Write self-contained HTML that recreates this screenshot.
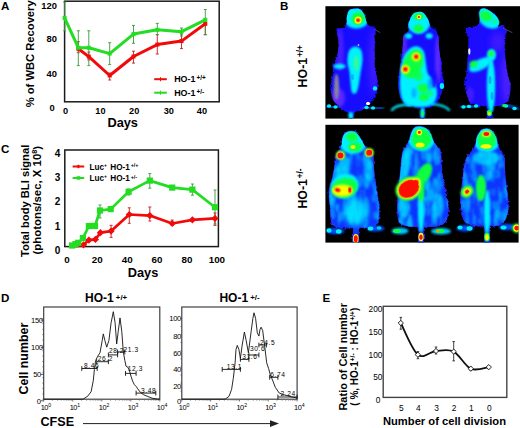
<!DOCTYPE html>
<html><head><meta charset="utf-8"><style>
html,body{margin:0;padding:0;background:#fff;}
svg{display:block;font-family:"Liberation Sans", sans-serif;}
</style></head><body>
<svg width="520" height="428" viewBox="0 0 520 428">
<defs>
<filter id="b07" x="-20%" y="-20%" width="140%" height="140%"><feGaussianBlur stdDeviation="0.8"/></filter>
<clipPath id="mc1"><path d="M349,10.2 C350.4,8.7 353.2,9.0 355,8.8 C356.8,8.6 358.5,8.3 360,9.2 C361.5,10.1 362.8,11.7 364,14 C365.2,16.3 366.1,21.2 367.1,23.2 C368.1,25.2 368.7,25.2 370,26 C371.3,26.8 374.1,26.8 375,28 C375.9,29.2 375.5,31.0 375.5,33 C375.5,35.0 374.9,36.5 374.8,40 C374.7,43.5 374.8,49.5 374.8,54 C374.8,58.5 374.3,62.5 374.8,67 C375.3,71.5 377.2,76.8 377.6,81 C378.0,85.2 377.7,88.9 376.9,92.2 C376.1,95.5 374.3,98.4 372.7,100.7 C371.1,103.0 368.6,104.5 367,106 C365.4,107.5 364.5,108.8 362.9,109.8 C361.3,110.8 358.8,111.2 357.2,111.9 C355.6,112.6 354.2,112.9 353.5,114 C352.8,115.1 353.8,117.8 353,118.6 C352.2,119.4 349.7,119.5 349,118.6 C348.3,117.7 349.8,114.6 348.8,113.3 C347.8,112.0 344.9,111.7 343.2,110.5 C341.4,109.3 340.1,107.9 338.3,106 C336.6,104.1 334.0,102.3 332.7,99.3 C331.4,96.3 330.6,92.2 330.6,88 C330.6,83.8 332.2,77.8 332.7,74 C333.2,70.2 332.6,68.3 333.4,65 C334.2,61.7 336.8,58.2 337.6,54 C338.4,49.8 338.5,43.7 338.3,40 C338.1,36.3 336.3,33.5 336.2,31.6 C336.1,29.7 336.3,29.5 337.6,28.8 C338.9,28.1 342.5,28.6 344,27.5 C345.5,26.4 346.2,23.6 346.7,22 C347.1,20.4 346.3,19.6 346.7,17.6 C347.1,15.6 347.6,11.7 349,10.2Z"/></clipPath><clipPath id="mc2"><path d="M418,12 C419.7,11.8 421.4,11.3 423,12.5 C424.6,13.7 426.6,16.8 427.9,19 C429.2,21.2 429.5,24.4 430.7,26 C431.9,27.6 433.6,27.2 434.9,28.8 C436.2,30.4 437.7,32.8 438.4,35.8 C439.1,38.8 438.3,40.6 439,47 C439.7,53.4 441.8,67.6 442.6,74 C443.4,80.4 444.6,81.0 444,85.2 C443.4,89.4 440.5,96.0 439,99.3 C437.5,102.6 436.7,103.5 434.9,104.9 C433.1,106.3 429.8,106.9 428,107.5 C426.2,108.1 424.9,106.7 424.3,108.5 C423.7,110.3 424.9,116.9 424.3,118.6 C423.7,120.3 421.4,120.3 420.8,118.6 C420.2,116.9 421.6,110.3 420.8,108.5 C420.0,106.7 418.6,108.1 416,107.5 C413.4,106.9 407.9,106.3 405.4,104.9 C402.9,103.5 402.4,102.1 401.2,99.3 C400.0,96.5 398.8,92.2 398.4,88 C398.0,83.8 398.4,80.8 399.1,74 C399.8,67.2 401.9,53.3 402.6,47 C403.3,40.7 402.4,38.7 403.3,36 C404.2,33.3 407.4,32.8 408.2,31 C409.0,29.2 408.0,26.8 408.2,25 C408.4,23.2 408.8,22.2 409.6,20.4 C410.4,18.6 411.6,15.4 413,14 C414.4,12.6 416.3,12.2 418,12Z"/></clipPath><clipPath id="mc3"><path d="M479.6,10.6 C480.5,8.6 482.6,7.8 485.2,8.5 C487.8,9.2 492.6,12.6 495,14.8 C497.4,17.0 498.8,19.7 499.3,21.8 C499.8,23.9 497.4,26.9 497.9,27.4 C498.3,27.9 500.6,24.6 502,25 C503.4,25.4 505.5,27.5 506,30 C506.5,32.5 505.1,36.0 504.9,40 C504.7,44.0 504.5,48.3 505,54 C505.5,59.7 506.8,68.8 507.7,74 C508.6,79.2 510.3,81.2 510.5,85.2 C510.7,89.2 510.0,94.9 509.1,97.9 C508.2,101.0 506.9,102.1 504.9,103.5 C502.9,104.9 499.0,105.7 497,106.3 C495.0,106.9 493.8,105.0 493,107 C492.2,109.0 493.5,116.7 492.5,118.6 C491.5,120.5 488.0,120.5 487,118.6 C486.0,116.7 487.7,109.0 486.5,107 C485.3,105.0 482.6,106.9 480,106.3 C477.4,105.7 473.2,104.9 471.2,103.5 C469.1,102.1 468.8,101.0 467.7,97.9 C466.6,94.9 465.1,89.2 464.9,85.2 C464.7,81.2 465.8,79.2 466.3,74 C466.8,68.8 467.4,59.7 467.7,54 C468.0,48.3 468.8,44.1 468.4,40 C468.0,35.9 465.7,31.6 465.6,29.5 C465.5,27.4 465.8,28.0 467.7,27.4 C469.6,26.8 475.0,27.2 477,26 C479.0,24.8 479.2,23.0 479.6,20.4 C480.0,17.8 478.7,12.6 479.6,10.6Z"/></clipPath><clipPath id="mc4"><path d="M346,132.4 C348.0,131.3 352.1,130.8 354.4,131.7 C356.7,132.5 358.4,135.3 360,137.5 C361.6,139.7 363.0,143.0 364.3,145 C365.6,147.0 366.6,148.0 368,149.5 C369.4,151.0 371.8,151.3 372.7,154.1 C373.6,156.8 372.9,161.0 373.4,166 C373.9,171.0 374.6,177.5 375.5,184 C376.4,190.5 378.5,198.9 379,205 C379.5,211.1 379.1,216.9 378.3,220.5 C377.5,224.1 376.1,225.3 374,226.5 C371.9,227.7 368.6,227.1 366,227.5 C363.4,227.9 359.8,226.4 358.6,229 C357.4,231.6 359.5,240.6 358.6,242.9 C357.7,245.2 353.9,245.2 353,242.9 C352.1,240.6 354.3,231.5 353,229 C351.7,226.5 348.2,228.5 345,228 C341.8,227.5 336.3,227.2 334,226 C331.7,224.8 332.0,224.0 331.3,220.5 C330.6,217.0 330.2,210.1 329.9,205 C329.5,199.9 328.8,194.2 329.2,190 C329.6,185.8 331.1,184.0 332,180 C332.9,176.0 334.2,169.7 334.8,166 C335.4,162.3 334.9,160.0 335.5,157.6 C336.1,155.2 337.5,153.6 338.5,151.5 C339.5,149.4 340.8,147.2 341.5,145 C342.2,142.8 341.8,140.1 342.5,138 C343.2,135.9 344.0,133.5 346,132.4Z"/></clipPath><clipPath id="mc5"><path d="M415.8,126.8 C417.9,126.0 421.9,126.6 424.2,127.5 C426.5,128.4 428.4,130.2 429.9,132.4 C431.4,134.6 432.2,138.5 433.4,140.8 C434.6,143.2 435.8,144.6 437,146.5 C438.2,148.4 439.8,148.8 440.5,152 C441.2,155.2 441.1,161.3 441.5,166 C441.9,170.7 441.9,173.5 443,180 C444.1,186.5 447.5,198.5 448.1,205 C448.7,211.5 447.9,215.7 446.7,219 C445.5,222.3 443.8,223.8 441,225 C438.2,226.2 432.9,226.0 430,226.5 C427.1,227.0 424.6,225.3 423.5,228 C422.4,230.7 424.3,240.4 423.5,242.9 C422.7,245.4 419.4,245.4 418.6,242.9 C417.8,240.4 420.0,230.7 418.6,228 C417.2,225.3 412.9,227.2 410,226.5 C407.1,225.8 402.9,225.2 401,224 C399.1,222.8 398.9,222.2 398.3,219 C397.7,215.8 397.4,211.5 397.6,205 C397.8,198.5 399.1,186.5 399.7,180 C400.3,173.5 400.6,170.5 401.1,166 C401.6,161.5 401.8,156.2 402.5,153 C403.2,149.8 404.4,148.5 405.5,146.5 C406.6,144.5 408.0,143.2 409,140.8 C410.0,138.5 410.5,134.7 411.6,132.4 C412.7,130.1 413.7,127.6 415.8,126.8Z"/></clipPath><clipPath id="mc6"><path d="M482.5,129.6 C484.7,128.4 488.0,128.4 490.2,129.6 C492.4,130.8 494.6,134.3 495.9,137 C497.2,139.7 497.1,143.5 498,146 C498.9,148.5 499.9,150.0 501,152 C502.1,154.0 503.7,155.3 504.3,158 C504.9,160.7 504.3,164.3 504.5,168 C504.7,171.7 504.9,175.0 505.5,180 C506.1,185.0 507.4,192.7 507.8,198 C508.2,203.3 508.6,207.8 507.8,212 C507.0,216.2 505.0,221.0 502.9,223.3 C500.8,225.6 497.2,225.4 495,226 C492.8,226.6 490.4,224.2 489.5,227 C488.6,229.8 490.3,240.2 489.5,242.9 C488.7,245.6 485.4,245.6 484.6,242.9 C483.8,240.2 485.7,229.8 484.6,227 C483.5,224.2 481.0,226.6 478,226 C475.0,225.4 469.1,225.6 466.4,223.3 C463.6,221.0 462.4,216.2 461.5,212 C460.6,207.8 460.6,203.3 460.8,198 C461.0,192.7 462.3,185.3 462.9,180 C463.5,174.7 463.8,169.8 464.5,166 C465.2,162.2 465.8,159.5 467,157 C468.2,154.5 470.6,153.0 472,151 C473.4,149.0 474.6,147.4 475.5,145 C476.4,142.6 476.0,139.2 477.2,136.6 C478.4,134.0 480.3,130.8 482.5,129.6Z"/></clipPath>
<filter id="b05" x="-50%" y="-50%" width="200%" height="200%"><feGaussianBlur stdDeviation="0.6"/></filter>
<filter id="b1" x="-50%" y="-50%" width="200%" height="200%"><feGaussianBlur stdDeviation="1.1"/></filter>
<filter id="b15" x="-50%" y="-50%" width="200%" height="200%"><feGaussianBlur stdDeviation="1.8"/></filter>
<filter id="b2" x="-50%" y="-50%" width="200%" height="200%"><feGaussianBlur stdDeviation="3"/></filter>
<filter id="rough" x="-10%" y="-10%" width="120%" height="120%"><feTurbulence type="fractalNoise" baseFrequency="0.35" numOctaves="2" seed="3" result="n"/><feDisplacementMap in="SourceGraphic" in2="n" scale="3.5" xChannelSelector="R" yChannelSelector="G" result="d"/><feGaussianBlur in="d" stdDeviation="0.5"/></filter>
<clipPath id="clipTop"><rect x="325.4" y="6.2" width="194.6" height="112.4"/></clipPath>
<clipPath id="clipBot"><rect x="325.4" y="124.8" width="193.2" height="117.8"/></clipPath>
</defs>
<rect width="520" height="428" fill="#fff"/>
<text x="0.9" y="10.0" font-size="11.6" font-weight="bold" text-anchor="start" >A</text>
<text transform="translate(33.8,53.8) rotate(-90)" font-size="11.2" font-weight="bold" text-anchor="middle">% of WBC Recovery</text>
<text x="57.0" y="8.8" font-size="9.4" font-weight="bold" text-anchor="end" >120</text>
<text x="57.0" y="42.2" font-size="9.4" font-weight="bold" text-anchor="end" >80</text>
<text x="57.0" y="76.7" font-size="9.4" font-weight="bold" text-anchor="end" >40</text>
<text x="54.6" y="110.6" font-size="9.4" font-weight="bold" text-anchor="end" >0</text>
<text x="65.6" y="113.6" font-size="9.2" font-weight="bold" text-anchor="middle" >0</text>
<text x="100.4" y="113.6" font-size="9.2" font-weight="bold" text-anchor="middle" >10</text>
<text x="134.2" y="113.6" font-size="9.2" font-weight="bold" text-anchor="middle" >20</text>
<text x="168.8" y="113.6" font-size="9.2" font-weight="bold" text-anchor="middle" >30</text>
<text x="201.9" y="113.6" font-size="9.2" font-weight="bold" text-anchor="middle" >40</text>
<text x="122.7" y="126.8" font-size="12.8" font-weight="bold" text-anchor="middle" >Days</text>
<rect x="64.6" y="1.2" width="154.6" height="100.6" fill="none" stroke="#1a1a1a" stroke-width="1.5"/>
<path d="M78.3,41.7V52.7M76.8,41.7h3M76.8,52.7h3" stroke="#c02020" stroke-width="0.9" fill="none"/>
<path d="M88.8,52V60M87.3,52h3M87.3,60h3" stroke="#c02020" stroke-width="0.9" fill="none"/>
<path d="M109.7,73V80M108.2,73h3M108.2,80h3" stroke="#c02020" stroke-width="0.9" fill="none"/>
<path d="M133.5,51.2V63.1M132.0,51.2h3M132.0,63.1h3" stroke="#c02020" stroke-width="0.9" fill="none"/>
<path d="M157.3,34.7V54M155.8,34.7h3M155.8,54h3" stroke="#c02020" stroke-width="0.9" fill="none"/>
<path d="M181.5,34.1V48.6M180.0,34.1h3M180.0,48.6h3" stroke="#c02020" stroke-width="0.9" fill="none"/>
<path d="M205.3,19.8V34.7M203.8,19.8h3M203.8,34.7h3" stroke="#c02020" stroke-width="0.9" fill="none"/>
<path d="M64.6,2V30.8M63.099999999999994,2h3M63.099999999999994,30.8h3" stroke="#3a9a3a" stroke-width="0.9" fill="none"/>
<path d="M78.3,30.8V65.6M76.8,30.8h3M76.8,65.6h3" stroke="#3a9a3a" stroke-width="0.9" fill="none"/>
<path d="M88.8,30.8V65.6M87.3,30.8h3M87.3,65.6h3" stroke="#3a9a3a" stroke-width="0.9" fill="none"/>
<path d="M109.7,42.7V64.6M108.2,42.7h3M108.2,64.6h3" stroke="#3a9a3a" stroke-width="0.9" fill="none"/>
<path d="M133.5,25.4V43.3M132.0,25.4h3M132.0,43.3h3" stroke="#3a9a3a" stroke-width="0.9" fill="none"/>
<path d="M157.3,23.4V34.7M155.8,23.4h3M155.8,34.7h3" stroke="#3a9a3a" stroke-width="0.9" fill="none"/>
<path d="M181.5,28V36M180.0,28h3M180.0,36h3" stroke="#3a9a3a" stroke-width="0.9" fill="none"/>
<path d="M205.3,9.5V34.7M203.8,9.5h3M203.8,34.7h3" stroke="#3a9a3a" stroke-width="0.9" fill="none"/>
<polyline points="78.3,48.7 88.8,56.6 109.7,75.5 133.5,56.5 157.3,44.6 181.5,41.1 205.3,23.8" fill="none" stroke="#f20a0a" stroke-width="3" stroke-linejoin="round"/>
<rect x="76.3" y="46.7" width="4" height="4" fill="#f20a0a"/>
<rect x="86.8" y="54.6" width="4" height="4" fill="#f20a0a"/>
<rect x="107.7" y="73.5" width="4" height="4" fill="#f20a0a"/>
<rect x="131.5" y="54.5" width="4" height="4" fill="#f20a0a"/>
<rect x="155.3" y="42.6" width="4" height="4" fill="#f20a0a"/>
<rect x="179.5" y="39.1" width="4" height="4" fill="#f20a0a"/>
<rect x="203.3" y="21.8" width="4" height="4" fill="#f20a0a"/>
<polyline points="64.6,17.9 78.3,47.7 88.8,47.7 109.7,53.6 133.5,34.1 157.3,29.8 181.5,31.7 205.3,19.8" fill="none" stroke="#22dd22" stroke-width="3" stroke-linejoin="round"/>
<rect x="62.6" y="15.9" width="4" height="4" fill="#22dd22"/>
<rect x="76.3" y="45.7" width="4" height="4" fill="#22dd22"/>
<rect x="86.8" y="45.7" width="4" height="4" fill="#22dd22"/>
<rect x="107.7" y="51.6" width="4" height="4" fill="#22dd22"/>
<rect x="131.5" y="32.1" width="4" height="4" fill="#22dd22"/>
<rect x="155.3" y="27.8" width="4" height="4" fill="#22dd22"/>
<rect x="179.5" y="29.7" width="4" height="4" fill="#22dd22"/>
<rect x="203.3" y="17.8" width="4" height="4" fill="#22dd22"/>
<path d="M154.2,79.2H166.8" stroke="#f20a0a" stroke-width="2"/>
<path d="M160.5,77.2V81.2M160.5,77.2h0M160.5,81.2h0" stroke="#f20a0a" stroke-width="1" fill="none"/>
<path d="M154.2,92.7H166.8" stroke="#22dd22" stroke-width="2"/>
<path d="M160.5,90.7V94.7M160.5,90.7h0M160.5,94.7h0" stroke="#22dd22" stroke-width="1" fill="none"/>
<text x="174.2" y="82.4" font-size="8.9" font-weight="bold" text-anchor="start" >HO-1<tspan font-size="6.4" dy="-2.2" dx="1.0">+/+</tspan></text>
<text x="174.2" y="95.9" font-size="8.9" font-weight="bold" text-anchor="start" >HO-1<tspan font-size="6.4" dy="-2.2" dx="1.0">+/-</tspan></text>
<text x="0.9" y="153.2" font-size="11.6" font-weight="bold" text-anchor="start" >C</text>
<text transform="translate(28.7,200.9) rotate(-90)" font-size="11.2" font-weight="bold" text-anchor="middle">Total body BLI signal</text>
<text transform="translate(40.8,200.2) rotate(-90)" font-size="11.4" font-weight="bold" text-anchor="middle">(photons/sec, X 10<tspan font-size="7.2" dy="-4">8</tspan><tspan dy="4">)</tspan></text>
<text x="60.2" y="156.5" font-size="10.0" font-weight="bold" text-anchor="end" >4</text>
<text x="60.2" y="181.1" font-size="10.0" font-weight="bold" text-anchor="end" >3</text>
<text x="60.2" y="205.1" font-size="10.0" font-weight="bold" text-anchor="end" >2</text>
<text x="60.2" y="229.5" font-size="10.0" font-weight="bold" text-anchor="end" >1</text>
<text x="60.2" y="253.9" font-size="10.0" font-weight="bold" text-anchor="end" >0</text>
<text x="66.9" y="263.4" font-size="9.8" font-weight="bold" text-anchor="middle" >0</text>
<text x="97.2" y="263.4" font-size="9.8" font-weight="bold" text-anchor="middle" >20</text>
<text x="127.2" y="263.4" font-size="9.8" font-weight="bold" text-anchor="middle" >40</text>
<text x="156.89999999999998" y="263.4" font-size="9.8" font-weight="bold" text-anchor="middle" >60</text>
<text x="186.89999999999998" y="263.4" font-size="9.8" font-weight="bold" text-anchor="middle" >80</text>
<text x="216.89999999999998" y="263.4" font-size="9.8" font-weight="bold" text-anchor="middle" >100</text>
<text x="143" y="276.8" font-size="12.8" font-weight="bold" text-anchor="middle" >Days</text>
<rect x="64.8" y="150.0" width="153.6" height="96.6" fill="none" stroke="#1a1a1a" stroke-width="1.5"/>
<path d="M100,205V217.9M98.5,205h3M98.5,217.9h3" stroke="#3a9a3a" stroke-width="0.9" fill="none"/>
<path d="M149.8,173.6V188.2M148.3,173.6h3M148.3,188.2h3" stroke="#3a9a3a" stroke-width="0.9" fill="none"/>
<path d="M192.4,184V195.2M190.9,184h3M190.9,195.2h3" stroke="#3a9a3a" stroke-width="0.9" fill="none"/>
<path d="M215,190V224M213.5,190h3M213.5,224h3" stroke="#3a9a3a" stroke-width="0.9" fill="none"/>
<path d="M128.6,189V195M127.1,189h3M127.1,195h3" stroke="#3a9a3a" stroke-width="0.9" fill="none"/>
<path d="M111.1,225.3V237.4M109.6,225.3h3M109.6,237.4h3" stroke="#c02020" stroke-width="0.9" fill="none"/>
<path d="M129.3,207.8V223.3M127.80000000000001,207.8h3M127.80000000000001,223.3h3" stroke="#c02020" stroke-width="0.9" fill="none"/>
<path d="M149.8,207V221M148.3,207h3M148.3,221h3" stroke="#c02020" stroke-width="0.9" fill="none"/>
<path d="M172.2,220V225.4M170.7,220h3M170.7,225.4h3" stroke="#c02020" stroke-width="0.9" fill="none"/>
<path d="M215,213V225.4M213.5,213h3M213.5,225.4h3" stroke="#c02020" stroke-width="0.9" fill="none"/>
<polyline points="72.1,246.0 78.2,246.0 83.5,244.8 88.9,240.1 95.4,239.4 100.4,232.7 111.1,231.1 129.3,214.5 149.8,215.6 172.2,223.5 192.4,219.8 215.0,218.4" fill="none" stroke="#f20a0a" stroke-width="2.7" stroke-linejoin="round"/>
<path d="M83.5,241.20000000000002L87.1,244.8L83.5,248.4L79.9,244.8Z" fill="#f20a0a"/>
<path d="M88.9,236.5L92.5,240.1L88.9,243.7L85.30000000000001,240.1Z" fill="#f20a0a"/>
<path d="M95.4,235.8L99.0,239.4L95.4,243.0L91.80000000000001,239.4Z" fill="#f20a0a"/>
<path d="M100.4,229.1L104.0,232.7L100.4,236.29999999999998L96.80000000000001,232.7Z" fill="#f20a0a"/>
<path d="M111.1,227.5L114.69999999999999,231.1L111.1,234.7L107.5,231.1Z" fill="#f20a0a"/>
<path d="M129.3,210.9L132.9,214.5L129.3,218.1L125.70000000000002,214.5Z" fill="#f20a0a"/>
<path d="M149.8,212.0L153.4,215.6L149.8,219.2L146.20000000000002,215.6Z" fill="#f20a0a"/>
<path d="M172.2,219.9L175.79999999999998,223.5L172.2,227.1L168.6,223.5Z" fill="#f20a0a"/>
<path d="M192.4,216.20000000000002L196.0,219.8L192.4,223.4L188.8,219.8Z" fill="#f20a0a"/>
<path d="M215,214.8L218.6,218.4L215,222.0L211.4,218.4Z" fill="#f20a0a"/>
<polyline points="72.1,245.5 75.5,244.1 78.2,242.8 82.9,238.1 88.9,226.0 95.0,226.0 100.0,210.5 110.7,209.1 128.6,191.8 149.8,180.6 172.2,187.6 192.4,189.6 215.0,207.2" fill="none" stroke="#22dd22" stroke-width="2.7" stroke-linejoin="round"/>
<rect x="69.0" y="242.4" width="6.2" height="6.2" fill="#22dd22"/>
<rect x="72.4" y="241.0" width="6.2" height="6.2" fill="#22dd22"/>
<rect x="75.1" y="239.7" width="6.2" height="6.2" fill="#22dd22"/>
<rect x="79.8" y="235.0" width="6.2" height="6.2" fill="#22dd22"/>
<rect x="85.8" y="222.9" width="6.2" height="6.2" fill="#22dd22"/>
<rect x="91.9" y="222.9" width="6.2" height="6.2" fill="#22dd22"/>
<rect x="96.9" y="207.4" width="6.2" height="6.2" fill="#22dd22"/>
<rect x="107.6" y="206.0" width="6.2" height="6.2" fill="#22dd22"/>
<rect x="125.5" y="188.7" width="6.2" height="6.2" fill="#22dd22"/>
<rect x="146.7" y="177.5" width="6.2" height="6.2" fill="#22dd22"/>
<rect x="169.1" y="184.5" width="6.2" height="6.2" fill="#22dd22"/>
<rect x="189.3" y="186.5" width="6.2" height="6.2" fill="#22dd22"/>
<rect x="211.9" y="204.1" width="6.2" height="6.2" fill="#22dd22"/>
<path d="M72.6,166.5H84.2" stroke="#f20a0a" stroke-width="2"/>
<path d="M78.4,164.5L80.4,166.5L78.4,168.5L76.4,166.5Z" fill="#f20a0a"/>
<path d="M72.6,178H84.2" stroke="#22dd22" stroke-width="2"/>
<rect x="76.7" y="176.2" width="3.5" height="3.5" fill="#22dd22"/>
<text x="89.5" y="169.8" font-size="8.2" font-weight="bold" text-anchor="start" >Luc<tspan font-size="5" dy="-3.2">+</tspan><tspan dy="3.2" dx="1"> HO-1</tspan><tspan font-size="5.4" dy="-2.7" dx="0.8">+/+</tspan></text>
<text x="89.5" y="181.3" font-size="8.2" font-weight="bold" text-anchor="start" >Luc<tspan font-size="5" dy="-3.2">+</tspan><tspan dy="3.2" dx="1"> HO-1</tspan><tspan font-size="5.4" dy="-2.7" dx="0.8">+/-</tspan></text>
<text x="1.0" y="302.1" font-size="11.6" font-weight="bold" text-anchor="start" >D</text>
<text transform="translate(28.2,358.6) rotate(-90)" font-size="12.4" font-weight="bold" text-anchor="middle">Cell number</text>
<text x="40.5" y="426.3" font-size="12.6" font-weight="bold" text-anchor="start" >CFSE</text>
<path d="M83,423.6H276" stroke="#222" stroke-width="1"/>
<path d="M270,420.2L279,423.6L270,427Z" fill="#222"/>
<rect x="43.7" y="307.0" width="116.10000000000001" height="92.19999999999999" fill="none" stroke="#3a3a3a" stroke-width="1.15"/>
<rect x="181.8" y="307.0" width="115.30000000000001" height="92.19999999999999" fill="none" stroke="#3a3a3a" stroke-width="1.15"/>
<path d="M43.7,399.2h-1.3" stroke="#444" stroke-width="0.7"/>
<path d="M43.7,393.8h-1.3" stroke="#444" stroke-width="0.7"/>
<path d="M43.7,388.4h-1.3" stroke="#444" stroke-width="0.7"/>
<path d="M43.7,383.0h-1.3" stroke="#444" stroke-width="0.7"/>
<path d="M43.7,377.7h-1.3" stroke="#444" stroke-width="0.7"/>
<path d="M43.7,372.3h-1.3" stroke="#444" stroke-width="0.7"/>
<path d="M43.7,366.9h-1.3" stroke="#444" stroke-width="0.7"/>
<path d="M43.7,361.5h-1.3" stroke="#444" stroke-width="0.7"/>
<path d="M43.7,356.1h-1.3" stroke="#444" stroke-width="0.7"/>
<path d="M43.7,350.7h-1.3" stroke="#444" stroke-width="0.7"/>
<path d="M43.7,345.3h-1.3" stroke="#444" stroke-width="0.7"/>
<path d="M43.7,339.9h-1.3" stroke="#444" stroke-width="0.7"/>
<path d="M43.7,334.6h-1.3" stroke="#444" stroke-width="0.7"/>
<path d="M43.7,329.2h-1.3" stroke="#444" stroke-width="0.7"/>
<path d="M43.7,323.8h-1.3" stroke="#444" stroke-width="0.7"/>
<path d="M43.7,318.4h-1.3" stroke="#444" stroke-width="0.7"/>
<path d="M181.8,399.2h-1.3" stroke="#444" stroke-width="0.7"/>
<path d="M181.8,391.1h-1.3" stroke="#444" stroke-width="0.7"/>
<path d="M181.8,383.0h-1.3" stroke="#444" stroke-width="0.7"/>
<path d="M181.8,375.0h-1.3" stroke="#444" stroke-width="0.7"/>
<path d="M181.8,366.9h-1.3" stroke="#444" stroke-width="0.7"/>
<path d="M181.8,358.8h-1.3" stroke="#444" stroke-width="0.7"/>
<path d="M181.8,350.7h-1.3" stroke="#444" stroke-width="0.7"/>
<path d="M181.8,342.6h-1.3" stroke="#444" stroke-width="0.7"/>
<path d="M181.8,334.6h-1.3" stroke="#444" stroke-width="0.7"/>
<path d="M181.8,326.5h-1.3" stroke="#444" stroke-width="0.7"/>
<path d="M181.8,318.4h-1.3" stroke="#444" stroke-width="0.7"/>
<text x="85.0" y="302.0" font-size="12.0" font-weight="bold" text-anchor="start" >HO-1<tspan font-size="7.8" dy="-2.5" dx="2.2">+/+</tspan></text>
<text x="42.6" y="322.8" font-size="7.6" font-weight="normal" text-anchor="end" letter-spacing="-0.4">150</text>
<path d="M40.8,320.0H43.7" stroke="#333" stroke-width="0.8"/>
<text x="42.6" y="350.2" font-size="7.6" font-weight="normal" text-anchor="end" letter-spacing="-0.4">100</text>
<path d="M40.8,347.4H43.7" stroke="#333" stroke-width="0.8"/>
<text x="40.8" y="377.2" font-size="7.6" font-weight="normal" text-anchor="end" letter-spacing="-0.4">50</text>
<path d="M40.8,374.4H43.7" stroke="#333" stroke-width="0.8"/>
<text x="40.6" y="403.59999999999997" font-size="7.6" font-weight="normal" text-anchor="end" letter-spacing="-0.4">0</text>
<path d="M40.8,400.8H43.7" stroke="#333" stroke-width="0.8"/>
<text x="40.7" y="410.4" font-size="7.4" letter-spacing="-0.5">10<tspan font-size="5.2" dy="-3.2" dx="0.4">0</tspan></text>
<path d="M43.7,399.9v1.6" stroke="#444" stroke-width="0.7"/>
<path d="M52.4,399.9v1.0" stroke="#777" stroke-width="0.6"/>
<path d="M57.6,399.9v1.0" stroke="#777" stroke-width="0.6"/>
<path d="M61.2,399.9v1.0" stroke="#777" stroke-width="0.6"/>
<path d="M64.0,399.9v1.0" stroke="#777" stroke-width="0.6"/>
<path d="M66.3,399.9v1.0" stroke="#777" stroke-width="0.6"/>
<path d="M68.2,399.9v1.0" stroke="#777" stroke-width="0.6"/>
<path d="M69.9,399.9v1.0" stroke="#777" stroke-width="0.6"/>
<path d="M71.4,399.9v1.0" stroke="#777" stroke-width="0.6"/>
<text x="69.7" y="410.4" font-size="7.4" letter-spacing="-0.5">10<tspan font-size="5.2" dy="-3.2" dx="0.4">1</tspan></text>
<path d="M72.7,399.9v1.6" stroke="#444" stroke-width="0.7"/>
<path d="M81.5,399.9v1.0" stroke="#777" stroke-width="0.6"/>
<path d="M86.6,399.9v1.0" stroke="#777" stroke-width="0.6"/>
<path d="M90.2,399.9v1.0" stroke="#777" stroke-width="0.6"/>
<path d="M93.0,399.9v1.0" stroke="#777" stroke-width="0.6"/>
<path d="M95.3,399.9v1.0" stroke="#777" stroke-width="0.6"/>
<path d="M97.3,399.9v1.0" stroke="#777" stroke-width="0.6"/>
<path d="M98.9,399.9v1.0" stroke="#777" stroke-width="0.6"/>
<path d="M100.4,399.9v1.0" stroke="#777" stroke-width="0.6"/>
<text x="98.8" y="410.4" font-size="7.4" letter-spacing="-0.5">10<tspan font-size="5.2" dy="-3.2" dx="0.4">2</tspan></text>
<path d="M101.8,399.9v1.6" stroke="#444" stroke-width="0.7"/>
<path d="M110.5,399.9v1.0" stroke="#777" stroke-width="0.6"/>
<path d="M115.6,399.9v1.0" stroke="#777" stroke-width="0.6"/>
<path d="M119.2,399.9v1.0" stroke="#777" stroke-width="0.6"/>
<path d="M122.1,399.9v1.0" stroke="#777" stroke-width="0.6"/>
<path d="M124.3,399.9v1.0" stroke="#777" stroke-width="0.6"/>
<path d="M126.3,399.9v1.0" stroke="#777" stroke-width="0.6"/>
<path d="M128.0,399.9v1.0" stroke="#777" stroke-width="0.6"/>
<path d="M129.5,399.9v1.0" stroke="#777" stroke-width="0.6"/>
<text x="127.8" y="410.4" font-size="7.4" letter-spacing="-0.5">10<tspan font-size="5.2" dy="-3.2" dx="0.4">3</tspan></text>
<path d="M130.8,399.9v1.6" stroke="#444" stroke-width="0.7"/>
<path d="M139.5,399.9v1.0" stroke="#777" stroke-width="0.6"/>
<path d="M144.6,399.9v1.0" stroke="#777" stroke-width="0.6"/>
<path d="M148.3,399.9v1.0" stroke="#777" stroke-width="0.6"/>
<path d="M151.1,399.9v1.0" stroke="#777" stroke-width="0.6"/>
<path d="M153.4,399.9v1.0" stroke="#777" stroke-width="0.6"/>
<path d="M155.3,399.9v1.0" stroke="#777" stroke-width="0.6"/>
<path d="M157.0,399.9v1.0" stroke="#777" stroke-width="0.6"/>
<path d="M158.5,399.9v1.0" stroke="#777" stroke-width="0.6"/>
<text x="156.8" y="410.4" font-size="7.4" letter-spacing="-0.5">10<tspan font-size="5.2" dy="-3.2" dx="0.4">4</tspan></text>
<path d="M159.8,399.9v1.6" stroke="#444" stroke-width="0.7"/>
<polyline points="43.5,399.2 80.0,399.2 83.3,399.0 87.8,396.1 91.1,391.7 93.3,380.6 94.4,369.4 95.6,360.6 97.8,356.1 100.0,352.8 102.2,340.6 103.3,333.9 104.9,340.6 106.7,347.2 108.9,340.6 111.1,322.8 113.3,311.7 115.1,322.8 116.7,343.9 118.2,331.7 120.0,317.9 121.8,331.7 123.3,351.9 124.8,360.3 126.0,366.2 127.7,367.0 129.4,370.4 131.0,376.3 132.7,381.3 134.4,384.7 136.1,386.4 137.8,388.9 140.3,392.3 143.7,394.8 147.9,396.5 152.1,398.2 157.1,399.0 159.8,399.2" fill="none" stroke="#111" stroke-width="0.9" stroke-linejoin="round"/>
<path d="M81.8,368.5H97.2M81.8,366.1v4.8M97.2,366.1v4.8" stroke="#111" stroke-width="0.9" fill="none"/>
<text x="84.0" y="367.6" font-size="6.6" font-weight="normal" text-anchor="start" letter-spacing="0.6">8.46</text>
<path d="M96.7,361.7H108.4M96.7,359.3v4.8M108.4,359.3v4.8" stroke="#111" stroke-width="0.9" fill="none"/>
<text x="97.8" y="360.6" font-size="6.6" font-weight="normal" text-anchor="start" letter-spacing="0.6">26.2</text>
<path d="M108.4,354.9H117.6M108.4,352.5v4.8M117.6,352.5v4.8" stroke="#111" stroke-width="0.9" fill="none"/>
<text x="108.9" y="352.8" font-size="6.6" font-weight="normal" text-anchor="start" letter-spacing="0.6">28.2</text>
<path d="M117.6,351.9H124.8M117.6,349.5v4.8M124.8,349.5v4.8" stroke="#111" stroke-width="0.9" fill="none"/>
<text x="123.5" y="351.9" font-size="6.6" font-weight="normal" text-anchor="start" letter-spacing="0.6">21.3</text>
<path d="M125.5,373.4H136.1M125.5,371.0v4.8M136.1,371.0v4.8" stroke="#111" stroke-width="0.9" fill="none"/>
<text x="127.7" y="371.2" font-size="6.6" font-weight="normal" text-anchor="start" letter-spacing="0.6">12.3</text>
<path d="M136.1,393.1H155.8M136.1,390.70000000000005v4.8M155.8,390.70000000000005v4.8" stroke="#111" stroke-width="0.9" fill="none"/>
<text x="141.1" y="393.1" font-size="6.6" font-weight="normal" text-anchor="start" letter-spacing="0.6">3.48</text>
<text x="219.4" y="302.0" font-size="12.0" font-weight="bold" text-anchor="start" >HO-1<tspan font-size="7.8" dy="-2.5" dx="2.2">+/-</tspan></text>
<text x="180.8" y="321.2" font-size="7.6" font-weight="normal" text-anchor="end" letter-spacing="-0.4">100</text>
<text x="180.8" y="338.59999999999997" font-size="7.6" font-weight="normal" text-anchor="end" letter-spacing="-0.4">80</text>
<text x="180.8" y="355.59999999999997" font-size="7.6" font-weight="normal" text-anchor="end" letter-spacing="-0.4">60</text>
<text x="180.8" y="372.3" font-size="7.6" font-weight="normal" text-anchor="end" letter-spacing="-0.4">40</text>
<text x="180.8" y="388.7" font-size="7.6" font-weight="normal" text-anchor="end" letter-spacing="-0.4">20</text>
<text x="180.8" y="403.8" font-size="7.6" font-weight="normal" text-anchor="end" letter-spacing="-0.4">0</text>
<text x="178.8" y="410.4" font-size="7.4" letter-spacing="-0.5">10<tspan font-size="5.2" dy="-3.2" dx="0.4">0</tspan></text>
<path d="M181.8,399.9v1.6" stroke="#444" stroke-width="0.7"/>
<path d="M190.5,399.9v1.0" stroke="#777" stroke-width="0.6"/>
<path d="M195.6,399.9v1.0" stroke="#777" stroke-width="0.6"/>
<path d="M199.2,399.9v1.0" stroke="#777" stroke-width="0.6"/>
<path d="M202.0,399.9v1.0" stroke="#777" stroke-width="0.6"/>
<path d="M204.2,399.9v1.0" stroke="#777" stroke-width="0.6"/>
<path d="M206.2,399.9v1.0" stroke="#777" stroke-width="0.6"/>
<path d="M207.8,399.9v1.0" stroke="#777" stroke-width="0.6"/>
<path d="M209.3,399.9v1.0" stroke="#777" stroke-width="0.6"/>
<text x="207.6" y="410.4" font-size="7.4" letter-spacing="-0.5">10<tspan font-size="5.2" dy="-3.2" dx="0.4">1</tspan></text>
<path d="M210.6,399.9v1.6" stroke="#444" stroke-width="0.7"/>
<path d="M219.3,399.9v1.0" stroke="#777" stroke-width="0.6"/>
<path d="M224.4,399.9v1.0" stroke="#777" stroke-width="0.6"/>
<path d="M228.0,399.9v1.0" stroke="#777" stroke-width="0.6"/>
<path d="M230.8,399.9v1.0" stroke="#777" stroke-width="0.6"/>
<path d="M233.1,399.9v1.0" stroke="#777" stroke-width="0.6"/>
<path d="M235.0,399.9v1.0" stroke="#777" stroke-width="0.6"/>
<path d="M236.7,399.9v1.0" stroke="#777" stroke-width="0.6"/>
<path d="M238.1,399.9v1.0" stroke="#777" stroke-width="0.6"/>
<text x="236.5" y="410.4" font-size="7.4" letter-spacing="-0.5">10<tspan font-size="5.2" dy="-3.2" dx="0.4">2</tspan></text>
<path d="M239.5,399.9v1.6" stroke="#444" stroke-width="0.7"/>
<path d="M248.1,399.9v1.0" stroke="#777" stroke-width="0.6"/>
<path d="M253.2,399.9v1.0" stroke="#777" stroke-width="0.6"/>
<path d="M256.8,399.9v1.0" stroke="#777" stroke-width="0.6"/>
<path d="M259.6,399.9v1.0" stroke="#777" stroke-width="0.6"/>
<path d="M261.9,399.9v1.0" stroke="#777" stroke-width="0.6"/>
<path d="M263.8,399.9v1.0" stroke="#777" stroke-width="0.6"/>
<path d="M265.5,399.9v1.0" stroke="#777" stroke-width="0.6"/>
<path d="M267.0,399.9v1.0" stroke="#777" stroke-width="0.6"/>
<text x="265.3" y="410.4" font-size="7.4" letter-spacing="-0.5">10<tspan font-size="5.2" dy="-3.2" dx="0.4">3</tspan></text>
<path d="M268.3,399.9v1.6" stroke="#444" stroke-width="0.7"/>
<path d="M277.0,399.9v1.0" stroke="#777" stroke-width="0.6"/>
<path d="M282.0,399.9v1.0" stroke="#777" stroke-width="0.6"/>
<path d="M285.6,399.9v1.0" stroke="#777" stroke-width="0.6"/>
<path d="M288.4,399.9v1.0" stroke="#777" stroke-width="0.6"/>
<path d="M290.7,399.9v1.0" stroke="#777" stroke-width="0.6"/>
<path d="M292.7,399.9v1.0" stroke="#777" stroke-width="0.6"/>
<path d="M294.3,399.9v1.0" stroke="#777" stroke-width="0.6"/>
<path d="M295.8,399.9v1.0" stroke="#777" stroke-width="0.6"/>
<text x="294.1" y="410.4" font-size="7.4" letter-spacing="-0.5">10<tspan font-size="5.2" dy="-3.2" dx="0.4">4</tspan></text>
<path d="M297.1,399.9v1.6" stroke="#444" stroke-width="0.7"/>
<polyline points="181.7,399.2 222.0,399.2 225.5,399.0 229.0,396.3 231.6,389.4 233.3,378.3 235.1,362.8 236.0,349.4 237.3,345.4 238.9,349.4 240.4,358.3 242.2,345.0 244.4,332.1 246.2,340.6 248.4,352.8 251.1,331.7 252.9,318.3 254.0,312.8 255.6,318.3 257.3,332.8 258.9,336.1 260.0,329.4 261.1,327.2 262.7,330.6 264.4,343.9 266.7,362.8 268.6,368.5 270.2,374.5 272.5,380.0 275.3,387.3 279.2,393.0 283.0,394.5 286.9,395.5 292.0,397.0 297.1,398.0" fill="none" stroke="#111" stroke-width="0.9" stroke-linejoin="round"/>
<path d="M222.2,369.4H240.4M222.2,367.0v4.8M240.4,367.0v4.8" stroke="#111" stroke-width="0.9" fill="none"/>
<text x="226.7" y="369.4" font-size="6.6" font-weight="normal" text-anchor="start" letter-spacing="0.6">13.1</text>
<path d="M240.4,359.4H248.9M240.4,357.0v4.8M248.9,357.0v4.8" stroke="#111" stroke-width="0.9" fill="none"/>
<text x="242.2" y="359.4" font-size="6.6" font-weight="normal" text-anchor="start" letter-spacing="0.6">31.6</text>
<path d="M248.9,355H258.9M248.9,352.6v4.8M258.9,352.6v4.8" stroke="#111" stroke-width="0.9" fill="none"/>
<text x="250" y="350.5" font-size="6.6" font-weight="normal" text-anchor="start" letter-spacing="0.6">30.6</text>
<path d="M258.9,345H266.4M258.9,342.6v4.8M266.4,342.6v4.8" stroke="#111" stroke-width="0.9" fill="none"/>
<text x="260" y="345" font-size="6.6" font-weight="normal" text-anchor="start" letter-spacing="0.6">24.5</text>
<path d="M269.7,377.3H277.9M269.7,374.90000000000003v4.8M277.9,374.90000000000003v4.8" stroke="#111" stroke-width="0.9" fill="none"/>
<text x="270.2" y="376.8" font-size="6.6" font-weight="normal" text-anchor="start" letter-spacing="0.6">6.74</text>
<path d="M277.9,397H297.1M277.9,394.6v4.8M297.1,394.6v4.8" stroke="#111" stroke-width="0.9" fill="none"/>
<text x="280.5" y="396" font-size="6.6" font-weight="normal" text-anchor="start" letter-spacing="0.6">2.24</text>
<text x="322.6" y="302.3" font-size="11.6" font-weight="bold" text-anchor="start" >E</text>
<text transform="translate(347.3,356.8) rotate(-90)" font-size="11.0" font-weight="bold" text-anchor="middle">Ratio of Cell number</text>
<text transform="translate(358.4,356.7) rotate(-90)" font-size="10.0" font-weight="bold" text-anchor="middle">( %, HO-1<tspan font-size="6.6" dy="-3.8">+/-</tspan><tspan dy="3.8"> : HO-1</tspan><tspan font-size="6.6" dy="-3.8">+/+</tspan><tspan dy="3.8">)</tspan></text>
<rect x="383.2" y="306.3" width="123.6" height="91.1" fill="none" stroke="#444" stroke-width="1.4"/>
<text x="382.4" y="312.1" font-size="8.3" font-weight="normal" text-anchor="end" >200</text>
<text x="382.4" y="334.90000000000003" font-size="8.3" font-weight="normal" text-anchor="end" >150</text>
<text x="382.4" y="357.7" font-size="8.3" font-weight="normal" text-anchor="end" >100</text>
<text x="382.4" y="380.1" font-size="8.3" font-weight="normal" text-anchor="end" >50</text>
<text x="380.4" y="402.5" font-size="8.3" font-weight="normal" text-anchor="end" >0</text>
<text x="401.3" y="410.6" font-size="8.4" font-weight="normal" text-anchor="middle" >5</text>
<text x="418.4" y="410.6" font-size="8.4" font-weight="normal" text-anchor="middle" >4</text>
<text x="436.5" y="410.6" font-size="8.4" font-weight="normal" text-anchor="middle" >3</text>
<text x="454.2" y="410.6" font-size="8.4" font-weight="normal" text-anchor="middle" >2</text>
<text x="471.3" y="410.6" font-size="8.4" font-weight="normal" text-anchor="middle" >1</text>
<text x="489.3" y="410.6" font-size="8.4" font-weight="normal" text-anchor="middle" >0</text>
<text x="444.5" y="425.2" font-size="11.2" font-weight="bold" text-anchor="middle" >Number of cell division</text>
<path d="M400.8,317.4V329.2M399.55,317.4h2.5M399.55,329.2h2.5" stroke="#111" stroke-width="0.8" fill="none"/>
<path d="M417.9,351.6V358.7M416.65,351.6h2.5M416.65,358.7h2.5" stroke="#111" stroke-width="0.8" fill="none"/>
<path d="M436,347V354M434.75,347h2.5M434.75,354h2.5" stroke="#111" stroke-width="0.8" fill="none"/>
<path d="M453.7,341.6V360.9M452.45,341.6h2.5M452.45,360.9h2.5" stroke="#111" stroke-width="0.8" fill="none"/>
<path d="M470.8,367V370.5M469.55,367h2.5M469.55,370.5h2.5" stroke="#111" stroke-width="0.8" fill="none"/>
<path d="M488.8,365.5V368.7M487.55,365.5h2.5M487.55,368.7h2.5" stroke="#111" stroke-width="0.8" fill="none"/>
<path d="M400.8,323 C403.6,328.3 412.0,350.0 417.9,354.7 C423.8,359.4 430.0,351.5 436,351 C442.0,350.5 447.9,348.7 453.7,351.6 C459.5,354.6 464.9,366.1 470.8,368.7 C476.7,371.3 485.8,367.4 488.8,367.1" fill="none" stroke="#111" stroke-width="1.8"/>
<path d="M400.8,320.4L403.40000000000003,323L400.8,325.6L398.2,323Z" fill="#fff" stroke="#111" stroke-width="0.9"/>
<path d="M417.9,352.09999999999997L420.5,354.7L417.9,357.3L415.29999999999995,354.7Z" fill="#fff" stroke="#111" stroke-width="0.9"/>
<path d="M436,348.4L438.6,351L436,353.6L433.4,351Z" fill="#fff" stroke="#111" stroke-width="0.9"/>
<path d="M453.7,349.0L456.3,351.6L453.7,354.20000000000005L451.09999999999997,351.6Z" fill="#fff" stroke="#111" stroke-width="0.9"/>
<path d="M470.8,366.09999999999997L473.40000000000003,368.7L470.8,371.3L468.2,368.7Z" fill="#fff" stroke="#111" stroke-width="0.9"/>
<path d="M488.8,364.5L491.40000000000003,367.1L488.8,369.70000000000005L486.2,367.1Z" fill="#fff" stroke="#111" stroke-width="0.9"/>
<text x="280.0" y="10.2" font-size="11.6" font-weight="bold" text-anchor="start" >B</text>
<text transform="translate(307.4,87.4) rotate(-90)" font-size="12.4" font-weight="bold" text-anchor="start">HO-1<tspan font-size="8.2" dy="-4.0" dx="0.8">+/+</tspan></text>
<text transform="translate(307.4,208.6) rotate(-90)" font-size="12.4" font-weight="bold" text-anchor="start">HO-1<tspan font-size="8.2" dy="-4.0" dx="0.8">+/-</tspan></text>
<rect x="325.4" y="6.2" width="194.6" height="112.4" fill="#000"/>
<rect x="325.4" y="124.8" width="193.2" height="117.8" fill="#000"/>
<g clip-path="url(#clipTop)">
<path d="M349,10.2 C350.4,8.7 353.2,9.0 355,8.8 C356.8,8.6 358.5,8.3 360,9.2 C361.5,10.1 362.8,11.7 364,14 C365.2,16.3 366.1,21.2 367.1,23.2 C368.1,25.2 368.7,25.2 370,26 C371.3,26.8 374.1,26.8 375,28 C375.9,29.2 375.5,31.0 375.5,33 C375.5,35.0 374.9,36.5 374.8,40 C374.7,43.5 374.8,49.5 374.8,54 C374.8,58.5 374.3,62.5 374.8,67 C375.3,71.5 377.2,76.8 377.6,81 C378.0,85.2 377.7,88.9 376.9,92.2 C376.1,95.5 374.3,98.4 372.7,100.7 C371.1,103.0 368.6,104.5 367,106 C365.4,107.5 364.5,108.8 362.9,109.8 C361.3,110.8 358.8,111.2 357.2,111.9 C355.6,112.6 354.2,112.9 353.5,114 C352.8,115.1 353.8,117.8 353,118.6 C352.2,119.4 349.7,119.5 349,118.6 C348.3,117.7 349.8,114.6 348.8,113.3 C347.8,112.0 344.9,111.7 343.2,110.5 C341.4,109.3 340.1,107.9 338.3,106 C336.6,104.1 334.0,102.3 332.7,99.3 C331.4,96.3 330.6,92.2 330.6,88 C330.6,83.8 332.2,77.8 332.7,74 C333.2,70.2 332.6,68.3 333.4,65 C334.2,61.7 336.8,58.2 337.6,54 C338.4,49.8 338.5,43.7 338.3,40 C338.1,36.3 336.3,33.5 336.2,31.6 C336.1,29.7 336.3,29.5 337.6,28.8 C338.9,28.1 342.5,28.6 344,27.5 C345.5,26.4 346.2,23.6 346.7,22 C347.1,20.4 346.3,19.6 346.7,17.6 C347.1,15.6 347.6,11.7 349,10.2Z" fill="#1410ff" filter="url(#rough)"/>
<g clip-path="url(#mc1)">
<ellipse cx="340" cy="50" rx="4" ry="22" fill="#7a34ff" transform="rotate(0 340 50)" filter="url(#b15)" opacity="0.45"/>
<ellipse cx="374" cy="62" rx="5" ry="34" fill="#7a34ff" transform="rotate(0 374 62)" filter="url(#b2)" opacity="0.4"/>
<ellipse cx="338" cy="98" rx="7" ry="10" fill="#7a34ff" transform="rotate(0 338 98)" filter="url(#b15)" opacity="0.7"/>
</g>
<ellipse cx="336.5" cy="87" rx="2.6" ry="13" fill="#8a8a9a" transform="rotate(0 336.5 87)" filter="url(#b1)" opacity="0.95"/>
<path d="M375,29.5L380,32.5" fill="none" stroke="#666" stroke-width="1.0" stroke-linecap="round" filter="url(#b05)" opacity="0.7"/>
<g clip-path="url(#mc1)">
<ellipse cx="357" cy="17.5" rx="13" ry="11" fill="#00f0ff" transform="rotate(-10 357 17.5)" filter="url(#b07)" opacity="1"/>
</g>
<ellipse cx="358" cy="18.5" rx="6.8" ry="6.5" fill="#10ff40" transform="rotate(-20 358 18.5)" filter="url(#b1)" opacity="1"/>
<ellipse cx="358.1" cy="20.2" rx="3.6" ry="3.6" fill="#f8ff00" transform="rotate(0 358.1 20.2)" filter="url(#b05)" opacity="1"/>
<ellipse cx="358.1" cy="20.2" rx="2.4" ry="2.4" fill="#ff9000" transform="rotate(0 358.1 20.2)" filter="url(#b05)" opacity="1"/>
<ellipse cx="358.1" cy="20.2" rx="1.2" ry="1.2" fill="#ff1000" transform="rotate(0 358.1 20.2)" filter="url(#b05)" opacity="1"/>
<path d="M349,51 C350.2,48.4 353.0,46.7 355,46.5 C357.0,46.3 359.8,47.8 361,50 C362.2,52.2 362.6,56.2 362.5,60 C362.4,63.8 361.2,68.7 360.5,73 C359.8,77.3 359.2,82.7 358.5,86 C357.8,89.3 357.1,91.9 356,93 C354.9,94.1 352.9,94.2 352,92.5 C351.1,90.8 350.9,86.4 350.5,83 C350.1,79.6 350.0,75.5 349.5,72 C349.0,68.5 347.6,65.5 347.5,62 C347.4,58.5 347.8,53.6 349,51Z" fill="#00f0ff" filter="url(#b1)"/>
<ellipse cx="356.2" cy="63" rx="2.8" ry="8" fill="#30ff90" transform="rotate(0 356.2 63)" filter="url(#b1)" opacity="0.9"/>
<ellipse cx="352.5" cy="77" rx="1.5" ry="3" fill="#0090ff" transform="rotate(0 352.5 77)" filter="url(#b05)" opacity="0.6"/>
<ellipse cx="339.5" cy="66.3" rx="6" ry="2.6" fill="#00f0ff" transform="rotate(0 339.5 66.3)" filter="url(#b1)" opacity="1"/>
<ellipse cx="375" cy="88.4" rx="2.2" ry="2.2" fill="#00f0ff" transform="rotate(0 375 88.4)" filter="url(#b05)" opacity="1"/>
<path d="M327,106.5L338,107" fill="none" stroke="#0060ff" stroke-width="2.6" stroke-linecap="round" filter="url(#b07)" opacity="0.9"/>
<path d="M363,107.5L383,108.5" fill="none" stroke="#0060ff" stroke-width="2.4" stroke-linecap="round" filter="url(#b07)" opacity="0.9"/>
<ellipse cx="329" cy="106" rx="2.2" ry="1.8" fill="#00f0ff" transform="rotate(0 329 106)" filter="url(#b05)" opacity="1"/>
<ellipse cx="368" cy="103.5" rx="1.5" ry="1.6" fill="#fff" transform="rotate(0 368 103.5)" filter="url(#b05)" opacity="1"/>
<ellipse cx="335.5" cy="107" rx="2.2" ry="1.8" fill="#00f0ff" transform="rotate(0 335.5 107)" filter="url(#b05)" opacity="1"/>
<ellipse cx="368" cy="103.5" rx="1.5" ry="1.6" fill="#fff" transform="rotate(0 368 103.5)" filter="url(#b05)" opacity="1"/>
<ellipse cx="366.5" cy="107.5" rx="2.2" ry="1.8" fill="#00f0ff" transform="rotate(0 366.5 107.5)" filter="url(#b05)" opacity="1"/>
<ellipse cx="368" cy="103.5" rx="1.5" ry="1.6" fill="#fff" transform="rotate(0 368 103.5)" filter="url(#b05)" opacity="1"/>
<ellipse cx="373" cy="108" rx="2.2" ry="1.8" fill="#00f0ff" transform="rotate(0 373 108)" filter="url(#b05)" opacity="1"/>
<ellipse cx="368" cy="103.5" rx="1.5" ry="1.6" fill="#fff" transform="rotate(0 368 103.5)" filter="url(#b05)" opacity="1"/>
<ellipse cx="350.8" cy="115.5" rx="2.4" ry="3.4" fill="#00f0ff" transform="rotate(0 350.8 115.5)" filter="url(#b1)" opacity="1"/>
<ellipse cx="358.5" cy="45" rx="0.8" ry="0.8" fill="#fff" transform="rotate(0 358.5 45)" opacity="1"/>
<path d="M418,12 C419.7,11.8 421.4,11.3 423,12.5 C424.6,13.7 426.6,16.8 427.9,19 C429.2,21.2 429.5,24.4 430.7,26 C431.9,27.6 433.6,27.2 434.9,28.8 C436.2,30.4 437.7,32.8 438.4,35.8 C439.1,38.8 438.3,40.6 439,47 C439.7,53.4 441.8,67.6 442.6,74 C443.4,80.4 444.6,81.0 444,85.2 C443.4,89.4 440.5,96.0 439,99.3 C437.5,102.6 436.7,103.5 434.9,104.9 C433.1,106.3 429.8,106.9 428,107.5 C426.2,108.1 424.9,106.7 424.3,108.5 C423.7,110.3 424.9,116.9 424.3,118.6 C423.7,120.3 421.4,120.3 420.8,118.6 C420.2,116.9 421.6,110.3 420.8,108.5 C420.0,106.7 418.6,108.1 416,107.5 C413.4,106.9 407.9,106.3 405.4,104.9 C402.9,103.5 402.4,102.1 401.2,99.3 C400.0,96.5 398.8,92.2 398.4,88 C398.0,83.8 398.4,80.8 399.1,74 C399.8,67.2 401.9,53.3 402.6,47 C403.3,40.7 402.4,38.7 403.3,36 C404.2,33.3 407.4,32.8 408.2,31 C409.0,29.2 408.0,26.8 408.2,25 C408.4,23.2 408.8,22.2 409.6,20.4 C410.4,18.6 411.6,15.4 413,14 C414.4,12.6 416.3,12.2 418,12Z" fill="#1410ff" filter="url(#rough)"/>
<g clip-path="url(#mc2)">
<ellipse cx="438" cy="60" rx="3" ry="25" fill="#7a34ff" transform="rotate(0 438 60)" filter="url(#b15)" opacity="0.7"/>
<ellipse cx="404" cy="45" rx="3" ry="12" fill="#7a34ff" transform="rotate(0 404 45)" filter="url(#b15)" opacity="0.6"/>
</g>
<g clip-path="url(#mc2)">
<ellipse cx="418.5" cy="21.5" rx="12" ry="12.5" fill="#00f0ff" transform="rotate(0 418.5 21.5)" filter="url(#b07)" opacity="1"/>
</g>
<ellipse cx="418.6" cy="16.5" rx="5.5" ry="3.2" fill="#10ff40" transform="rotate(0 418.6 16.5)" filter="url(#b1)" opacity="1"/>
<ellipse cx="418.5" cy="28.5" rx="5" ry="4" fill="#10ff40" transform="rotate(0 418.5 28.5)" filter="url(#b1)" opacity="1"/>
<ellipse cx="418.9" cy="17" rx="2.2" ry="2.2" fill="#f8ff00" transform="rotate(0 418.9 17)" filter="url(#b05)" opacity="1"/>
<ellipse cx="418.9" cy="17" rx="1.1" ry="1.1" fill="#ff1000" transform="rotate(0 418.9 17)" filter="url(#b05)" opacity="1"/>
<ellipse cx="408.6" cy="36" rx="3.5" ry="2.8" fill="#00f0ff" transform="rotate(0 408.6 36)" filter="url(#b1)" opacity="1"/>
<ellipse cx="429.2" cy="36" rx="3.5" ry="2.8" fill="#00f0ff" transform="rotate(0 429.2 36)" filter="url(#b1)" opacity="1"/>
<path d="M400.5,74 C401.0,69.3 401.4,62.2 403,58 C404.6,53.8 407.5,50.4 410,48.5 C412.5,46.6 415.7,45.9 418,46.5 C420.3,47.1 422.7,49.1 424,52 C425.3,54.9 425.3,60.3 426,64 C426.7,67.7 426.7,71.3 428,74 C429.3,76.7 432.5,77.0 434,80 C435.5,83.0 436.8,88.5 437,92 C437.2,95.5 436.3,98.7 435,101 C433.7,103.3 431.8,105.0 429,106 C426.2,107.0 421.8,107.2 418,107 C414.2,106.8 408.8,106.2 406,104.5 C403.2,102.8 402.5,100.1 401.5,97 C400.5,93.9 400.2,89.8 400,86 C399.8,82.2 400.0,78.7 400.5,74Z" fill="#00f0ff" filter="url(#b1)"/>
<ellipse cx="434" cy="80" rx="3" ry="8" fill="#1410ff" transform="rotate(0 434 80)" filter="url(#b1)" opacity="0.9"/>
<ellipse cx="413" cy="64" rx="9.5" ry="15" fill="#10ff40" transform="rotate(22 413 64)" filter="url(#b1)" opacity="1"/>
<ellipse cx="418" cy="76" rx="5" ry="5" fill="#10ff40" transform="rotate(0 418 76)" filter="url(#b1)" opacity="0.8"/>
<ellipse cx="423" cy="88" rx="5.5" ry="4.5" fill="#10ff40" transform="rotate(0 423 88)" filter="url(#b1)" opacity="1"/>
<ellipse cx="424" cy="97" rx="5" ry="4" fill="#10ff40" transform="rotate(0 424 97)" filter="url(#b1)" opacity="1"/>
<ellipse cx="430" cy="93" rx="3" ry="3" fill="#10ff40" transform="rotate(0 430 93)" filter="url(#b1)" opacity="0.7"/>
<ellipse cx="414" cy="93" rx="2.5" ry="5" fill="#0090ff" transform="rotate(0 414 93)" filter="url(#b1)" opacity="0.6"/>
<ellipse cx="430" cy="84" rx="2.5" ry="6" fill="#0090ff" transform="rotate(0 430 84)" filter="url(#b1)" opacity="0.6"/>
<ellipse cx="416.2" cy="56.8" rx="4.4" ry="4.4" fill="#f8ff00" transform="rotate(0 416.2 56.8)" filter="url(#b1)" opacity="1"/>
<ellipse cx="416.2" cy="56.8" rx="2.9333333333333336" ry="2.9333333333333336" fill="#ff9000" transform="rotate(0 416.2 56.8)" filter="url(#b05)" opacity="1"/>
<ellipse cx="416.2" cy="56.8" rx="1.4666666666666668" ry="1.4666666666666668" fill="#ff1000" transform="rotate(0 416.2 56.8)" filter="url(#b05)" opacity="1"/>
<ellipse cx="405.4" cy="69.3" rx="4.4" ry="4.4" fill="#f8ff00" transform="rotate(0 405.4 69.3)" filter="url(#b1)" opacity="1"/>
<ellipse cx="405.4" cy="69.3" rx="2.9333333333333336" ry="2.9333333333333336" fill="#ff9000" transform="rotate(0 405.4 69.3)" filter="url(#b05)" opacity="1"/>
<ellipse cx="405.4" cy="69.3" rx="1.4666666666666668" ry="1.4666666666666668" fill="#ff1000" transform="rotate(0 405.4 69.3)" filter="url(#b05)" opacity="1"/>
<ellipse cx="441.9" cy="85.9" rx="2.2" ry="3" fill="#00f0ff" transform="rotate(0 441.9 85.9)" filter="url(#b05)" opacity="1"/>
<path d="M392,110Q396,104.5 410,105" fill="none" stroke="#00f0ff" stroke-width="2.2" stroke-linecap="round" filter="url(#b07)" opacity="1"/>
<path d="M432,104Q445,105 449,110" fill="none" stroke="#00f0ff" stroke-width="2.2" stroke-linecap="round" filter="url(#b07)" opacity="1"/>
<ellipse cx="422.5" cy="113" rx="2.2" ry="5.5" fill="#00f0ff" transform="rotate(0 422.5 113)" filter="url(#b1)" opacity="1"/>
<ellipse cx="422.5" cy="114" rx="1.2" ry="3" fill="#10ff40" transform="rotate(0 422.5 114)" filter="url(#b05)" opacity="1"/>
<path d="M479.6,10.6 C480.5,8.6 482.6,7.8 485.2,8.5 C487.8,9.2 492.6,12.6 495,14.8 C497.4,17.0 498.8,19.7 499.3,21.8 C499.8,23.9 497.4,26.9 497.9,27.4 C498.3,27.9 500.6,24.6 502,25 C503.4,25.4 505.5,27.5 506,30 C506.5,32.5 505.1,36.0 504.9,40 C504.7,44.0 504.5,48.3 505,54 C505.5,59.7 506.8,68.8 507.7,74 C508.6,79.2 510.3,81.2 510.5,85.2 C510.7,89.2 510.0,94.9 509.1,97.9 C508.2,101.0 506.9,102.1 504.9,103.5 C502.9,104.9 499.0,105.7 497,106.3 C495.0,106.9 493.8,105.0 493,107 C492.2,109.0 493.5,116.7 492.5,118.6 C491.5,120.5 488.0,120.5 487,118.6 C486.0,116.7 487.7,109.0 486.5,107 C485.3,105.0 482.6,106.9 480,106.3 C477.4,105.7 473.2,104.9 471.2,103.5 C469.1,102.1 468.8,101.0 467.7,97.9 C466.6,94.9 465.1,89.2 464.9,85.2 C464.7,81.2 465.8,79.2 466.3,74 C466.8,68.8 467.4,59.7 467.7,54 C468.0,48.3 468.8,44.1 468.4,40 C468.0,35.9 465.7,31.6 465.6,29.5 C465.5,27.4 465.8,28.0 467.7,27.4 C469.6,26.8 475.0,27.2 477,26 C479.0,24.8 479.2,23.0 479.6,20.4 C480.0,17.8 478.7,12.6 479.6,10.6Z" fill="#1a10ff" filter="url(#rough)"/>
<g clip-path="url(#mc3)">
<ellipse cx="507" cy="78" rx="6" ry="26" fill="#7a34ff" transform="rotate(0 507 78)" filter="url(#b2)" opacity="0.5"/>
<ellipse cx="498" cy="42" rx="8" ry="10" fill="#7a34ff" transform="rotate(0 498 42)" filter="url(#b2)" opacity="0.35"/>
<ellipse cx="470" cy="95" rx="4" ry="8" fill="#7a34ff" transform="rotate(0 470 95)" filter="url(#b15)" opacity="0.4"/>
</g>
<path d="M503,28L512,32.5" fill="none" stroke="#666" stroke-width="1.0" stroke-linecap="round" filter="url(#b05)" opacity="0.7"/>
<ellipse cx="469.3" cy="51.5" rx="1.1" ry="3.2" fill="#eee" transform="rotate(0 469.3 51.5)" filter="url(#b05)" opacity="1"/>
<g clip-path="url(#mc3)">
<ellipse cx="489.5" cy="17.5" rx="13" ry="10" fill="#00f0ff" transform="rotate(38 489.5 17.5)" filter="url(#b07)" opacity="1"/>
</g>
<ellipse cx="486" cy="16.2" rx="6.5" ry="5" fill="#10ff40" transform="rotate(30 486 16.2)" filter="url(#b1)" opacity="1"/>
<ellipse cx="495" cy="21.8" rx="2.5" ry="2.5" fill="#10ff40" transform="rotate(0 495 21.8)" filter="url(#b1)" opacity="0.6"/>
<ellipse cx="480.5" cy="64.5" rx="12.5" ry="5.2" fill="#00f0ff" transform="rotate(-28 480.5 64.5)" filter="url(#b1)" opacity="1"/>
<ellipse cx="491.5" cy="55" rx="4.5" ry="6" fill="#00f0ff" transform="rotate(0 491.5 55)" filter="url(#b1)" opacity="1"/>
<ellipse cx="473.6" cy="64" rx="4.2" ry="3.2" fill="#10ff40" transform="rotate(-15 473.6 64)" filter="url(#b1)" opacity="1"/>
<ellipse cx="491.3" cy="53.5" rx="3" ry="3" fill="#10ff40" transform="rotate(0 491.3 53.5)" filter="url(#b1)" opacity="1"/>
<ellipse cx="491" cy="86" rx="4.2" ry="27" fill="#00f0ff" transform="rotate(0 491 86)" filter="url(#b1)" opacity="1"/>
<ellipse cx="490" cy="80" rx="1.5" ry="4" fill="#0090ff" transform="rotate(0 490 80)" filter="url(#b05)" opacity="0.7"/>
<ellipse cx="492" cy="96" rx="1.5" ry="4" fill="#0090ff" transform="rotate(0 492 96)" filter="url(#b05)" opacity="0.7"/>
<ellipse cx="489.4" cy="113" rx="2.5" ry="3.2" fill="#10ff40" transform="rotate(0 489.4 113)" filter="url(#b05)" opacity="1"/>
<ellipse cx="489.4" cy="113.5" rx="1.3" ry="1.6" fill="#f8ff00" transform="rotate(0 489.4 113.5)" filter="url(#b05)" opacity="1"/>
<path d="M461,107L479,106" fill="none" stroke="#0060ff" stroke-width="2.6" stroke-linecap="round" filter="url(#b07)" opacity="0.9"/>
<path d="M501,105Q512,105.5 517.5,109" fill="none" stroke="#0060ff" stroke-width="2.6" stroke-linecap="round" filter="url(#b07)" opacity="0.9"/>
<ellipse cx="463.5" cy="107" rx="2.2" ry="1.8" fill="#00f0ff" transform="rotate(0 463.5 107)" filter="url(#b05)" opacity="1"/>
<ellipse cx="469" cy="106.5" rx="2.2" ry="1.8" fill="#00f0ff" transform="rotate(0 469 106.5)" filter="url(#b05)" opacity="1"/>
<ellipse cx="476" cy="106" rx="2.2" ry="1.8" fill="#00f0ff" transform="rotate(0 476 106)" filter="url(#b05)" opacity="1"/>
<ellipse cx="506" cy="106" rx="2.2" ry="1.8" fill="#00f0ff" transform="rotate(0 506 106)" filter="url(#b05)" opacity="1"/>
<ellipse cx="514.5" cy="108.5" rx="2.2" ry="1.8" fill="#00f0ff" transform="rotate(0 514.5 108.5)" filter="url(#b05)" opacity="1"/>
<ellipse cx="504.2" cy="105.6" rx="2" ry="1.6" fill="#10ff40" transform="rotate(0 504.2 105.6)" filter="url(#b05)" opacity="1"/>
</g>
<g clip-path="url(#clipBot)">
<path d="M346,132.4 C348.0,131.3 352.1,130.8 354.4,131.7 C356.7,132.5 358.4,135.3 360,137.5 C361.6,139.7 363.0,143.0 364.3,145 C365.6,147.0 366.6,148.0 368,149.5 C369.4,151.0 371.8,151.3 372.7,154.1 C373.6,156.8 372.9,161.0 373.4,166 C373.9,171.0 374.6,177.5 375.5,184 C376.4,190.5 378.5,198.9 379,205 C379.5,211.1 379.1,216.9 378.3,220.5 C377.5,224.1 376.1,225.3 374,226.5 C371.9,227.7 368.6,227.1 366,227.5 C363.4,227.9 359.8,226.4 358.6,229 C357.4,231.6 359.5,240.6 358.6,242.9 C357.7,245.2 353.9,245.2 353,242.9 C352.1,240.6 354.3,231.5 353,229 C351.7,226.5 348.2,228.5 345,228 C341.8,227.5 336.3,227.2 334,226 C331.7,224.8 332.0,224.0 331.3,220.5 C330.6,217.0 330.2,210.1 329.9,205 C329.5,199.9 328.8,194.2 329.2,190 C329.6,185.8 331.1,184.0 332,180 C332.9,176.0 334.2,169.7 334.8,166 C335.4,162.3 334.9,160.0 335.5,157.6 C336.1,155.2 337.5,153.6 338.5,151.5 C339.5,149.4 340.8,147.2 341.5,145 C342.2,142.8 341.8,140.1 342.5,138 C343.2,135.9 344.0,133.5 346,132.4Z" fill="#0a34ff" stroke="#3a20ff" stroke-width="1.0" filter="url(#rough)"/>
<g clip-path="url(#mc4)"><g filter="url(#b1)">
<ellipse cx="351.5" cy="194.8" rx="3.3" ry="7.9" fill="#00c4ff" opacity="0.5"/>
<ellipse cx="354.4" cy="197.0" rx="1.9" ry="4.9" fill="#00c4ff" opacity="0.5"/>
<ellipse cx="360.8" cy="213.4" rx="1.8" ry="3.7" fill="#00c4ff" opacity="0.5"/>
<ellipse cx="332.7" cy="214.8" rx="2.8" ry="4.5" fill="#00c4ff" opacity="0.5"/>
<ellipse cx="379.1" cy="227.2" rx="2.8" ry="7.6" fill="#00c4ff" opacity="0.5"/>
<ellipse cx="336.2" cy="151.2" rx="2.6" ry="4.1" fill="#00c4ff" opacity="0.5"/>
<ellipse cx="337.9" cy="169.4" rx="1.7" ry="4.0" fill="#00c4ff" opacity="0.5"/>
<ellipse cx="350.9" cy="217.4" rx="2.5" ry="7.0" fill="#00c4ff" opacity="0.5"/>
<ellipse cx="354.0" cy="203.0" rx="2.4" ry="5.0" fill="#00c4ff" opacity="0.5"/>
<ellipse cx="379.9" cy="229.7" rx="3.1" ry="9.1" fill="#00c4ff" opacity="0.5"/>
<ellipse cx="344.4" cy="168.4" rx="2.1" ry="3.5" fill="#00c4ff" opacity="0.5"/>
<ellipse cx="367.8" cy="182.0" rx="3.1" ry="7.1" fill="#00c4ff" opacity="0.5"/>
<ellipse cx="377.8" cy="217.8" rx="1.6" ry="3.1" fill="#00c4ff" opacity="0.5"/>
<ellipse cx="375.3" cy="187.6" rx="3.4" ry="7.7" fill="#00c4ff" opacity="0.5"/>
<ellipse cx="331.8" cy="200.4" rx="3.0" ry="6.1" fill="#00c4ff" opacity="0.5"/>
<ellipse cx="332.5" cy="176.6" rx="3.3" ry="10.1" fill="#00c4ff" opacity="0.5"/>
<ellipse cx="334.1" cy="169.7" rx="1.8" ry="2.9" fill="#00c4ff" opacity="0.5"/>
<ellipse cx="369.4" cy="164.2" rx="2.6" ry="6.2" fill="#00c4ff" opacity="0.5"/>
<ellipse cx="337.9" cy="208.6" rx="1.8" ry="5.1" fill="#00c4ff" opacity="0.5"/>
<ellipse cx="334.1" cy="183.7" rx="2.0" ry="4.0" fill="#00c4ff" opacity="0.5"/>
<ellipse cx="378.5" cy="214.3" rx="2.1" ry="7.0" fill="#00c4ff" opacity="0.5"/>
<ellipse cx="339.0" cy="181.5" rx="3.1" ry="8.7" fill="#00c4ff" opacity="0.5"/>
<ellipse cx="333.2" cy="229.1" rx="2.0" ry="4.0" fill="#00c4ff" opacity="0.5"/>
<ellipse cx="368.2" cy="176.3" rx="2.1" ry="3.5" fill="#00c4ff" opacity="0.5"/>
<ellipse cx="332.7" cy="196.6" rx="2.0" ry="5.5" fill="#00c4ff" opacity="0.5"/>
<ellipse cx="347.3" cy="186.3" rx="3.3" ry="8.2" fill="#00c4ff" opacity="0.5"/>
<ellipse cx="357.9" cy="219.3" rx="1.9" ry="3.5" fill="#00c4ff" opacity="0.5"/>
<ellipse cx="375.2" cy="215.4" rx="2.0" ry="3.9" fill="#00c4ff" opacity="0.5"/>
<ellipse cx="366.5" cy="225.2" rx="2.0" ry="6.6" fill="#00c4ff" opacity="0.5"/>
<ellipse cx="373.9" cy="198.3" rx="2.4" ry="4.0" fill="#00c4ff" opacity="0.5"/>
<ellipse cx="330.0" cy="227.0" rx="2.0" ry="5.9" fill="#00c4ff" opacity="0.5"/>
<ellipse cx="341.4" cy="215.9" rx="2.7" ry="5.6" fill="#00c4ff" opacity="0.5"/>
<ellipse cx="337.1" cy="207.6" rx="1.7" ry="3.4" fill="#00c4ff" opacity="0.5"/>
<ellipse cx="357.1" cy="218.2" rx="2.7" ry="5.6" fill="#00c4ff" opacity="0.5"/>
<ellipse cx="375.7" cy="166.3" rx="1.6" ry="3.3" fill="#00c4ff" opacity="0.5"/>
<ellipse cx="351.2" cy="154.8" rx="1.9" ry="4.3" fill="#00c4ff" opacity="0.5"/>
<ellipse cx="357.8" cy="160.5" rx="2.3" ry="7.4" fill="#00c4ff" opacity="0.5"/>
<ellipse cx="379.0" cy="202.6" rx="2.8" ry="7.6" fill="#00c4ff" opacity="0.5"/>
<ellipse cx="335.3" cy="152.8" rx="1.6" ry="5.4" fill="#00c4ff" opacity="0.5"/>
<ellipse cx="364.5" cy="227.0" rx="1.6" ry="4.5" fill="#00c4ff" opacity="0.5"/>
<ellipse cx="353.1" cy="208.4" rx="2.2" ry="7.6" fill="#00c4ff" opacity="0.5"/>
<ellipse cx="331.9" cy="193.7" rx="2.9" ry="9.7" fill="#00c4ff" opacity="0.5"/>
<ellipse cx="366.3" cy="206.3" rx="3.0" ry="10.1" fill="#00c4ff" opacity="0.5"/>
<ellipse cx="346.3" cy="204.8" rx="3.2" ry="10.4" fill="#00c4ff" opacity="0.5"/>
<ellipse cx="349.7" cy="213.2" rx="3.2" ry="8.3" fill="#00c4ff" opacity="0.5"/>
<ellipse cx="360.5" cy="180.6" rx="2.6" ry="7.2" fill="#00c4ff" opacity="0.5"/>
<ellipse cx="332.2" cy="201.2" rx="3.4" ry="11.0" fill="#00c4ff" opacity="0.5"/>
<ellipse cx="365.9" cy="181.1" rx="2.9" ry="7.8" fill="#00c4ff" opacity="0.5"/>
<ellipse cx="350.9" cy="217.1" rx="1.8" ry="5.3" fill="#00c4ff" opacity="0.5"/>
<ellipse cx="329.5" cy="198.1" rx="2.5" ry="4.8" fill="#00c4ff" opacity="0.5"/>
</g></g>
<g clip-path="url(#mc4)"><g filter="url(#b07)">
<ellipse cx="364.3" cy="193.8" rx="1.0" ry="5.8" fill="#20d0ff" opacity="0.35"/>
<ellipse cx="341.3" cy="160.8" rx="0.9" ry="4.3" fill="#20d0ff" opacity="0.35"/>
<ellipse cx="338.5" cy="171.5" rx="1.2" ry="5.7" fill="#20d0ff" opacity="0.35"/>
<ellipse cx="351.0" cy="220.6" rx="0.9" ry="4.3" fill="#20d0ff" opacity="0.35"/>
<ellipse cx="338.3" cy="189.3" rx="1.1" ry="6.3" fill="#20d0ff" opacity="0.35"/>
<ellipse cx="373.8" cy="186.1" rx="1.0" ry="3.9" fill="#20d0ff" opacity="0.35"/>
<ellipse cx="335.1" cy="193.8" rx="1.1" ry="6.2" fill="#20d0ff" opacity="0.35"/>
<ellipse cx="365.0" cy="224.6" rx="0.8" ry="2.9" fill="#20d0ff" opacity="0.35"/>
<ellipse cx="351.4" cy="178.7" rx="0.8" ry="3.4" fill="#20d0ff" opacity="0.35"/>
<ellipse cx="360.5" cy="193.6" rx="0.9" ry="4.7" fill="#20d0ff" opacity="0.35"/>
<ellipse cx="379.1" cy="190.8" rx="0.7" ry="2.3" fill="#20d0ff" opacity="0.35"/>
<ellipse cx="373.4" cy="162.8" rx="1.1" ry="5.0" fill="#20d0ff" opacity="0.35"/>
<ellipse cx="344.1" cy="213.8" rx="0.7" ry="2.4" fill="#20d0ff" opacity="0.35"/>
<ellipse cx="351.7" cy="161.7" rx="1.1" ry="4.1" fill="#20d0ff" opacity="0.35"/>
<ellipse cx="335.3" cy="163.2" rx="1.0" ry="4.4" fill="#20d0ff" opacity="0.35"/>
<ellipse cx="360.8" cy="204.5" rx="1.1" ry="6.5" fill="#20d0ff" opacity="0.35"/>
<ellipse cx="363.6" cy="173.6" rx="0.9" ry="3.3" fill="#20d0ff" opacity="0.35"/>
<ellipse cx="328.6" cy="192.1" rx="1.1" ry="3.7" fill="#20d0ff" opacity="0.35"/>
<ellipse cx="342.2" cy="183.5" rx="1.0" ry="4.8" fill="#20d0ff" opacity="0.35"/>
<ellipse cx="360.0" cy="211.4" rx="0.9" ry="4.8" fill="#20d0ff" opacity="0.35"/>
<ellipse cx="375.1" cy="165.9" rx="1.2" ry="6.0" fill="#20d0ff" opacity="0.35"/>
<ellipse cx="334.8" cy="190.8" rx="1.0" ry="5.8" fill="#20d0ff" opacity="0.35"/>
<ellipse cx="347.6" cy="198.7" rx="1.1" ry="6.1" fill="#20d0ff" opacity="0.35"/>
<ellipse cx="377.1" cy="191.5" rx="1.0" ry="3.7" fill="#20d0ff" opacity="0.35"/>
<ellipse cx="365.5" cy="215.6" rx="1.0" ry="5.3" fill="#20d0ff" opacity="0.35"/>
<ellipse cx="339.1" cy="221.2" rx="1.2" ry="7.1" fill="#20d0ff" opacity="0.35"/>
<ellipse cx="355.9" cy="213.8" rx="0.9" ry="4.9" fill="#20d0ff" opacity="0.35"/>
<ellipse cx="372.5" cy="183.7" rx="0.7" ry="3.2" fill="#20d0ff" opacity="0.35"/>
<ellipse cx="356.6" cy="212.2" rx="0.9" ry="2.9" fill="#20d0ff" opacity="0.35"/>
<ellipse cx="370.1" cy="164.4" rx="1.1" ry="3.9" fill="#20d0ff" opacity="0.35"/>
<ellipse cx="345.4" cy="213.6" rx="0.8" ry="2.7" fill="#20d0ff" opacity="0.35"/>
<ellipse cx="354.9" cy="209.2" rx="1.1" ry="5.7" fill="#20d0ff" opacity="0.35"/>
<ellipse cx="377.2" cy="193.5" rx="1.2" ry="3.8" fill="#20d0ff" opacity="0.35"/>
<ellipse cx="339.5" cy="195.8" rx="0.8" ry="4.4" fill="#20d0ff" opacity="0.35"/>
<ellipse cx="361.2" cy="195.5" rx="1.1" ry="5.2" fill="#20d0ff" opacity="0.35"/>
<ellipse cx="344.2" cy="185.9" rx="1.1" ry="6.4" fill="#20d0ff" opacity="0.35"/>
<ellipse cx="338.8" cy="217.9" rx="1.2" ry="5.4" fill="#20d0ff" opacity="0.35"/>
<ellipse cx="357.8" cy="173.7" rx="1.0" ry="4.4" fill="#20d0ff" opacity="0.35"/>
<ellipse cx="359.5" cy="161.9" rx="1.2" ry="5.4" fill="#20d0ff" opacity="0.35"/>
<ellipse cx="348.8" cy="214.5" rx="1.0" ry="4.4" fill="#20d0ff" opacity="0.35"/>
</g></g>
<g clip-path="url(#mc4)"><g filter="url(#b1)">
<ellipse cx="363.9" cy="164.5" rx="2.3" ry="4.0" fill="#0030ff" opacity="0.5"/>
<ellipse cx="377.8" cy="222.8" rx="1.9" ry="3.5" fill="#0030ff" opacity="0.5"/>
<ellipse cx="334.6" cy="189.5" rx="2.7" ry="6.5" fill="#0030ff" opacity="0.5"/>
<ellipse cx="352.8" cy="181.6" rx="1.8" ry="3.6" fill="#0030ff" opacity="0.5"/>
<ellipse cx="376.1" cy="168.8" rx="2.7" ry="3.3" fill="#0030ff" opacity="0.5"/>
<ellipse cx="338.1" cy="175.5" rx="2.5" ry="4.1" fill="#0030ff" opacity="0.5"/>
<ellipse cx="346.5" cy="202.1" rx="1.7" ry="3.6" fill="#0030ff" opacity="0.5"/>
<ellipse cx="334.4" cy="194.7" rx="1.9" ry="2.7" fill="#0030ff" opacity="0.5"/>
<ellipse cx="355.6" cy="189.7" rx="2.1" ry="3.6" fill="#0030ff" opacity="0.5"/>
<ellipse cx="355.5" cy="170.9" rx="1.8" ry="3.7" fill="#0030ff" opacity="0.5"/>
<ellipse cx="361.2" cy="196.0" rx="2.8" ry="5.5" fill="#0030ff" opacity="0.5"/>
<ellipse cx="372.6" cy="175.8" rx="2.6" ry="5.9" fill="#0030ff" opacity="0.5"/>
<ellipse cx="374.9" cy="181.5" rx="2.0" ry="4.7" fill="#0030ff" opacity="0.5"/>
<ellipse cx="339.3" cy="227.9" rx="2.8" ry="3.9" fill="#0030ff" opacity="0.5"/>
<ellipse cx="340.4" cy="209.4" rx="1.9" ry="2.5" fill="#0030ff" opacity="0.5"/>
<ellipse cx="371.3" cy="188.7" rx="2.7" ry="3.7" fill="#0030ff" opacity="0.5"/>
<ellipse cx="348.9" cy="206.6" rx="1.5" ry="2.2" fill="#0030ff" opacity="0.5"/>
<ellipse cx="363.5" cy="222.0" rx="3.0" ry="4.0" fill="#0030ff" opacity="0.5"/>
</g></g>
<g clip-path="url(#mc4)">
<ellipse cx="343" cy="170" rx="7" ry="14" fill="#00f0ff" transform="rotate(20 343 170)" filter="url(#b15)" opacity="0.7"/>
<ellipse cx="368" cy="168" rx="5" ry="14" fill="#00f0ff" transform="rotate(-15 368 168)" filter="url(#b15)" opacity="0.6"/>
<ellipse cx="357" cy="167" rx="7" ry="9" fill="#0a34ff" transform="rotate(0 357 167)" filter="url(#b15)" opacity="0.7"/>
<ellipse cx="356" cy="212" rx="12" ry="14" fill="#00f0ff" transform="rotate(0 356 212)" filter="url(#b2)" opacity="0.8"/>
</g>
<g clip-path="url(#mc4)">
<ellipse cx="353" cy="141" rx="14" ry="13" fill="#00f0ff" transform="rotate(0 353 141)" filter="url(#b07)" opacity="1"/>
</g>
<ellipse cx="352" cy="137" rx="6" ry="4.5" fill="#10ff40" transform="rotate(0 352 137)" filter="url(#b1)" opacity="1"/>
<ellipse cx="355" cy="147" rx="7" ry="4.8" fill="#10ff40" transform="rotate(0 355 147)" filter="url(#b1)" opacity="1"/>
<ellipse cx="353" cy="147.1" rx="2.5" ry="2" fill="#f8ff00" transform="rotate(0 353 147.1)" filter="url(#b05)" opacity="1"/>
<ellipse cx="341" cy="155" rx="5" ry="4.5" fill="#10ff40" transform="rotate(0 341 155)" filter="url(#b1)" opacity="0.7"/>
<ellipse cx="368.8" cy="152.5" rx="5" ry="4.5" fill="#10ff40" transform="rotate(0 368.8 152.5)" filter="url(#b1)" opacity="0.7"/>
<ellipse cx="340.4" cy="155.5" rx="4.0" ry="4.0" fill="#f8ff00" transform="rotate(0 340.4 155.5)" filter="url(#b1)" opacity="1"/>
<ellipse cx="340.4" cy="155.5" rx="3.0" ry="3.0" fill="#ff1000" transform="rotate(0 340.4 155.5)" filter="url(#b05)" opacity="1"/>
<ellipse cx="340.4" cy="155.5" rx="2.0" ry="2.0" fill="#ff1000" transform="rotate(0 340.4 155.5)" filter="url(#b05)" opacity="1"/>
<ellipse cx="340.4" cy="155.5" rx="1.0" ry="1.0" fill="#ff1000" transform="rotate(0 340.4 155.5)" filter="url(#b05)" opacity="1"/>
<ellipse cx="369.2" cy="152.7" rx="4.0" ry="4.0" fill="#f8ff00" transform="rotate(0 369.2 152.7)" filter="url(#b1)" opacity="1"/>
<ellipse cx="369.2" cy="152.7" rx="3.0" ry="3.0" fill="#ff1000" transform="rotate(0 369.2 152.7)" filter="url(#b05)" opacity="1"/>
<ellipse cx="369.2" cy="152.7" rx="2.0" ry="2.0" fill="#ff1000" transform="rotate(0 369.2 152.7)" filter="url(#b05)" opacity="1"/>
<ellipse cx="369.2" cy="152.7" rx="1.0" ry="1.0" fill="#ff1000" transform="rotate(0 369.2 152.7)" filter="url(#b05)" opacity="1"/>
<ellipse cx="345" cy="186" rx="14" ry="12" fill="#00f0ff" transform="rotate(-20 345 186)" filter="url(#b1)" opacity="1"/>
<ellipse cx="344.5" cy="188" rx="13" ry="10" fill="#10ff40" transform="rotate(-15 344.5 188)" filter="url(#b1)" opacity="1"/>
<ellipse cx="342.5" cy="190.5" rx="10.5" ry="6" fill="#f8ff00" transform="rotate(0 342.5 190.5)" filter="url(#b1)" opacity="1"/>
<ellipse cx="337.6" cy="190" rx="3.5" ry="2.4" fill="#ff9000" transform="rotate(20 337.6 190)" filter="url(#b05)" opacity="1"/>
<ellipse cx="349.8" cy="190" rx="2" ry="3.4" fill="#ff9000" transform="rotate(0 349.8 190)" filter="url(#b05)" opacity="1"/>
<ellipse cx="337.6" cy="190" rx="2" ry="1.5" fill="#ff1000" transform="rotate(20 337.6 190)" filter="url(#b05)" opacity="1"/>
<ellipse cx="349.8" cy="190" rx="1.2" ry="2.2" fill="#ff1000" transform="rotate(0 349.8 190)" filter="url(#b05)" opacity="1"/>
<ellipse cx="335.5" cy="231" rx="9" ry="3.2" fill="#0050ff" transform="rotate(0 335.5 231)" filter="url(#b07)" opacity="1"/>
<ellipse cx="329" cy="230.5" rx="2.6" ry="2.2" fill="#00f0ff" transform="rotate(0 329 230.5)" filter="url(#b05)" opacity="1"/>
<ellipse cx="338.7" cy="231.5" rx="2.8" ry="2.2" fill="#00f0ff" transform="rotate(0 338.7 231.5)" filter="url(#b05)" opacity="1"/>
<ellipse cx="375.5" cy="228.5" rx="9" ry="3" fill="#0050ff" transform="rotate(0 375.5 228.5)" filter="url(#b07)" opacity="1"/>
<ellipse cx="370.5" cy="228.5" rx="2.8" ry="2" fill="#00f0ff" transform="rotate(0 370.5 228.5)" filter="url(#b05)" opacity="1"/>
<ellipse cx="379" cy="228" rx="2.4" ry="1.8" fill="#00c4ff" transform="rotate(0 379 228)" filter="url(#b05)" opacity="1"/>
<ellipse cx="355.8" cy="238.5" rx="2.8" ry="4.6" fill="#f8ff00" transform="rotate(0 355.8 238.5)" filter="url(#b05)" opacity="1"/>
<ellipse cx="355.8" cy="238.8" rx="2.0" ry="3.6" fill="#ff1000" transform="rotate(0 355.8 238.8)" filter="url(#b05)" opacity="1"/>
<path d="M415.8,126.8 C417.9,126.0 421.9,126.6 424.2,127.5 C426.5,128.4 428.4,130.2 429.9,132.4 C431.4,134.6 432.2,138.5 433.4,140.8 C434.6,143.2 435.8,144.6 437,146.5 C438.2,148.4 439.8,148.8 440.5,152 C441.2,155.2 441.1,161.3 441.5,166 C441.9,170.7 441.9,173.5 443,180 C444.1,186.5 447.5,198.5 448.1,205 C448.7,211.5 447.9,215.7 446.7,219 C445.5,222.3 443.8,223.8 441,225 C438.2,226.2 432.9,226.0 430,226.5 C427.1,227.0 424.6,225.3 423.5,228 C422.4,230.7 424.3,240.4 423.5,242.9 C422.7,245.4 419.4,245.4 418.6,242.9 C417.8,240.4 420.0,230.7 418.6,228 C417.2,225.3 412.9,227.2 410,226.5 C407.1,225.8 402.9,225.2 401,224 C399.1,222.8 398.9,222.2 398.3,219 C397.7,215.8 397.4,211.5 397.6,205 C397.8,198.5 399.1,186.5 399.7,180 C400.3,173.5 400.6,170.5 401.1,166 C401.6,161.5 401.8,156.2 402.5,153 C403.2,149.8 404.4,148.5 405.5,146.5 C406.6,144.5 408.0,143.2 409,140.8 C410.0,138.5 410.5,134.7 411.6,132.4 C412.7,130.1 413.7,127.6 415.8,126.8Z" fill="#0a34ff" stroke="#3a20ff" stroke-width="1.0" filter="url(#rough)"/>
<g clip-path="url(#mc5)"><g filter="url(#b1)">
<ellipse cx="423.3" cy="210.7" rx="2.5" ry="7.2" fill="#00c4ff" opacity="0.5"/>
<ellipse cx="406.2" cy="155.6" rx="1.8" ry="2.8" fill="#00c4ff" opacity="0.5"/>
<ellipse cx="425.8" cy="191.2" rx="2.6" ry="4.7" fill="#00c4ff" opacity="0.5"/>
<ellipse cx="406.0" cy="166.3" rx="3.1" ry="10.8" fill="#00c4ff" opacity="0.5"/>
<ellipse cx="446.1" cy="157.6" rx="1.7" ry="5.8" fill="#00c4ff" opacity="0.5"/>
<ellipse cx="421.0" cy="211.2" rx="2.2" ry="5.3" fill="#00c4ff" opacity="0.5"/>
<ellipse cx="423.8" cy="184.4" rx="2.7" ry="4.1" fill="#00c4ff" opacity="0.5"/>
<ellipse cx="433.9" cy="217.5" rx="1.9" ry="4.6" fill="#00c4ff" opacity="0.5"/>
<ellipse cx="435.9" cy="182.4" rx="2.0" ry="3.6" fill="#00c4ff" opacity="0.5"/>
<ellipse cx="423.7" cy="151.2" rx="3.2" ry="10.0" fill="#00c4ff" opacity="0.5"/>
<ellipse cx="434.1" cy="218.9" rx="2.7" ry="6.3" fill="#00c4ff" opacity="0.5"/>
<ellipse cx="428.4" cy="190.3" rx="3.4" ry="10.5" fill="#00c4ff" opacity="0.5"/>
<ellipse cx="409.9" cy="222.9" rx="2.9" ry="9.0" fill="#00c4ff" opacity="0.5"/>
<ellipse cx="440.0" cy="182.5" rx="3.2" ry="10.5" fill="#00c4ff" opacity="0.5"/>
<ellipse cx="433.5" cy="211.4" rx="3.0" ry="6.9" fill="#00c4ff" opacity="0.5"/>
<ellipse cx="435.0" cy="155.6" rx="2.2" ry="5.4" fill="#00c4ff" opacity="0.5"/>
<ellipse cx="396.6" cy="178.5" rx="2.7" ry="7.6" fill="#00c4ff" opacity="0.5"/>
<ellipse cx="408.5" cy="225.6" rx="2.8" ry="6.1" fill="#00c4ff" opacity="0.5"/>
<ellipse cx="431.6" cy="195.6" rx="2.6" ry="5.8" fill="#00c4ff" opacity="0.5"/>
<ellipse cx="450.0" cy="201.4" rx="2.9" ry="8.7" fill="#00c4ff" opacity="0.5"/>
<ellipse cx="448.9" cy="151.8" rx="2.7" ry="8.1" fill="#00c4ff" opacity="0.5"/>
<ellipse cx="409.9" cy="182.1" rx="1.7" ry="3.2" fill="#00c4ff" opacity="0.5"/>
<ellipse cx="416.3" cy="157.9" rx="2.1" ry="6.8" fill="#00c4ff" opacity="0.5"/>
<ellipse cx="425.7" cy="190.6" rx="3.3" ry="8.8" fill="#00c4ff" opacity="0.5"/>
<ellipse cx="449.7" cy="201.0" rx="3.1" ry="5.1" fill="#00c4ff" opacity="0.5"/>
<ellipse cx="428.3" cy="210.7" rx="1.7" ry="5.6" fill="#00c4ff" opacity="0.5"/>
<ellipse cx="404.6" cy="187.7" rx="1.9" ry="4.7" fill="#00c4ff" opacity="0.5"/>
<ellipse cx="429.0" cy="154.7" rx="3.3" ry="7.7" fill="#00c4ff" opacity="0.5"/>
<ellipse cx="424.4" cy="197.8" rx="2.3" ry="4.7" fill="#00c4ff" opacity="0.5"/>
<ellipse cx="431.4" cy="194.9" rx="2.1" ry="6.2" fill="#00c4ff" opacity="0.5"/>
<ellipse cx="412.0" cy="151.1" rx="2.0" ry="3.2" fill="#00c4ff" opacity="0.5"/>
<ellipse cx="404.5" cy="210.4" rx="2.3" ry="7.6" fill="#00c4ff" opacity="0.5"/>
<ellipse cx="436.4" cy="154.0" rx="3.4" ry="11.5" fill="#00c4ff" opacity="0.5"/>
<ellipse cx="400.0" cy="222.4" rx="2.4" ry="5.8" fill="#00c4ff" opacity="0.5"/>
<ellipse cx="448.6" cy="169.5" rx="2.5" ry="8.6" fill="#00c4ff" opacity="0.5"/>
<ellipse cx="435.0" cy="187.5" rx="3.4" ry="10.5" fill="#00c4ff" opacity="0.5"/>
<ellipse cx="428.6" cy="159.2" rx="2.7" ry="6.6" fill="#00c4ff" opacity="0.5"/>
<ellipse cx="407.0" cy="154.2" rx="2.6" ry="4.5" fill="#00c4ff" opacity="0.5"/>
<ellipse cx="419.9" cy="203.4" rx="2.4" ry="4.9" fill="#00c4ff" opacity="0.5"/>
<ellipse cx="427.4" cy="183.6" rx="3.0" ry="7.7" fill="#00c4ff" opacity="0.5"/>
<ellipse cx="449.9" cy="226.2" rx="2.9" ry="5.8" fill="#00c4ff" opacity="0.5"/>
<ellipse cx="402.1" cy="221.4" rx="3.0" ry="8.3" fill="#00c4ff" opacity="0.5"/>
<ellipse cx="415.4" cy="171.7" rx="2.8" ry="7.5" fill="#00c4ff" opacity="0.5"/>
<ellipse cx="428.0" cy="200.6" rx="3.0" ry="5.6" fill="#00c4ff" opacity="0.5"/>
<ellipse cx="409.4" cy="228.4" rx="3.2" ry="10.6" fill="#00c4ff" opacity="0.5"/>
<ellipse cx="398.1" cy="154.9" rx="2.1" ry="4.9" fill="#00c4ff" opacity="0.5"/>
<ellipse cx="429.7" cy="158.2" rx="2.6" ry="4.2" fill="#00c4ff" opacity="0.5"/>
<ellipse cx="400.7" cy="204.1" rx="2.6" ry="7.2" fill="#00c4ff" opacity="0.5"/>
<ellipse cx="416.2" cy="188.3" rx="2.0" ry="4.3" fill="#00c4ff" opacity="0.5"/>
<ellipse cx="436.2" cy="217.1" rx="1.7" ry="3.0" fill="#00c4ff" opacity="0.5"/>
</g></g>
<g clip-path="url(#mc5)"><g filter="url(#b07)">
<ellipse cx="439.7" cy="200.5" rx="1.1" ry="3.9" fill="#20d0ff" opacity="0.35"/>
<ellipse cx="418.9" cy="173.8" rx="1.1" ry="4.5" fill="#20d0ff" opacity="0.35"/>
<ellipse cx="431.3" cy="227.2" rx="0.9" ry="4.0" fill="#20d0ff" opacity="0.35"/>
<ellipse cx="436.3" cy="222.2" rx="0.9" ry="3.8" fill="#20d0ff" opacity="0.35"/>
<ellipse cx="401.2" cy="218.9" rx="0.7" ry="2.4" fill="#20d0ff" opacity="0.35"/>
<ellipse cx="426.5" cy="190.4" rx="1.0" ry="4.1" fill="#20d0ff" opacity="0.35"/>
<ellipse cx="437.9" cy="160.6" rx="0.8" ry="4.0" fill="#20d0ff" opacity="0.35"/>
<ellipse cx="400.4" cy="177.2" rx="1.1" ry="5.4" fill="#20d0ff" opacity="0.35"/>
<ellipse cx="411.3" cy="165.4" rx="0.9" ry="4.6" fill="#20d0ff" opacity="0.35"/>
<ellipse cx="415.8" cy="163.6" rx="1.1" ry="5.0" fill="#20d0ff" opacity="0.35"/>
<ellipse cx="445.6" cy="223.6" rx="1.2" ry="5.0" fill="#20d0ff" opacity="0.35"/>
<ellipse cx="439.4" cy="177.2" rx="0.9" ry="3.6" fill="#20d0ff" opacity="0.35"/>
<ellipse cx="446.5" cy="220.3" rx="0.8" ry="3.4" fill="#20d0ff" opacity="0.35"/>
<ellipse cx="415.7" cy="181.5" rx="0.9" ry="3.7" fill="#20d0ff" opacity="0.35"/>
<ellipse cx="406.5" cy="196.2" rx="1.1" ry="5.1" fill="#20d0ff" opacity="0.35"/>
<ellipse cx="441.2" cy="196.1" rx="0.8" ry="4.2" fill="#20d0ff" opacity="0.35"/>
<ellipse cx="443.6" cy="175.5" rx="0.7" ry="3.2" fill="#20d0ff" opacity="0.35"/>
<ellipse cx="425.4" cy="196.4" rx="1.2" ry="5.9" fill="#20d0ff" opacity="0.35"/>
<ellipse cx="439.4" cy="159.7" rx="1.0" ry="5.2" fill="#20d0ff" opacity="0.35"/>
<ellipse cx="400.5" cy="161.0" rx="1.1" ry="6.1" fill="#20d0ff" opacity="0.35"/>
<ellipse cx="400.6" cy="201.3" rx="0.8" ry="4.0" fill="#20d0ff" opacity="0.35"/>
<ellipse cx="431.0" cy="172.9" rx="0.8" ry="4.3" fill="#20d0ff" opacity="0.35"/>
<ellipse cx="424.2" cy="210.8" rx="0.9" ry="3.6" fill="#20d0ff" opacity="0.35"/>
<ellipse cx="448.3" cy="204.1" rx="0.9" ry="4.4" fill="#20d0ff" opacity="0.35"/>
<ellipse cx="434.9" cy="206.7" rx="1.2" ry="4.9" fill="#20d0ff" opacity="0.35"/>
<ellipse cx="440.6" cy="203.7" rx="1.1" ry="6.1" fill="#20d0ff" opacity="0.35"/>
<ellipse cx="441.0" cy="219.9" rx="1.2" ry="5.8" fill="#20d0ff" opacity="0.35"/>
<ellipse cx="424.3" cy="206.8" rx="1.1" ry="4.7" fill="#20d0ff" opacity="0.35"/>
<ellipse cx="418.7" cy="165.7" rx="1.1" ry="6.4" fill="#20d0ff" opacity="0.35"/>
<ellipse cx="416.3" cy="167.2" rx="0.8" ry="3.4" fill="#20d0ff" opacity="0.35"/>
<ellipse cx="411.8" cy="225.8" rx="0.7" ry="2.9" fill="#20d0ff" opacity="0.35"/>
<ellipse cx="402.2" cy="202.3" rx="1.1" ry="3.8" fill="#20d0ff" opacity="0.35"/>
<ellipse cx="399.4" cy="188.5" rx="1.0" ry="5.7" fill="#20d0ff" opacity="0.35"/>
<ellipse cx="398.0" cy="162.9" rx="0.8" ry="2.9" fill="#20d0ff" opacity="0.35"/>
<ellipse cx="408.7" cy="207.4" rx="1.0" ry="3.7" fill="#20d0ff" opacity="0.35"/>
<ellipse cx="406.0" cy="175.5" rx="0.8" ry="4.1" fill="#20d0ff" opacity="0.35"/>
<ellipse cx="412.8" cy="195.0" rx="1.1" ry="4.9" fill="#20d0ff" opacity="0.35"/>
<ellipse cx="410.1" cy="219.8" rx="1.2" ry="4.7" fill="#20d0ff" opacity="0.35"/>
<ellipse cx="425.6" cy="224.9" rx="0.9" ry="3.4" fill="#20d0ff" opacity="0.35"/>
<ellipse cx="398.7" cy="224.2" rx="1.1" ry="4.6" fill="#20d0ff" opacity="0.35"/>
</g></g>
<g clip-path="url(#mc5)"><g filter="url(#b1)">
<ellipse cx="424.5" cy="192.7" rx="1.9" ry="4.8" fill="#0030ff" opacity="0.5"/>
<ellipse cx="431.5" cy="172.3" rx="1.5" ry="2.8" fill="#0030ff" opacity="0.5"/>
<ellipse cx="416.1" cy="213.2" rx="2.6" ry="5.1" fill="#0030ff" opacity="0.5"/>
<ellipse cx="404.5" cy="166.5" rx="2.0" ry="3.0" fill="#0030ff" opacity="0.5"/>
<ellipse cx="442.9" cy="192.7" rx="2.5" ry="6.1" fill="#0030ff" opacity="0.5"/>
<ellipse cx="410.4" cy="194.0" rx="1.7" ry="3.8" fill="#0030ff" opacity="0.5"/>
<ellipse cx="396.1" cy="215.0" rx="2.8" ry="6.3" fill="#0030ff" opacity="0.5"/>
<ellipse cx="400.5" cy="174.7" rx="2.6" ry="3.4" fill="#0030ff" opacity="0.5"/>
<ellipse cx="421.9" cy="189.2" rx="2.9" ry="5.8" fill="#0030ff" opacity="0.5"/>
<ellipse cx="442.3" cy="177.2" rx="2.7" ry="4.7" fill="#0030ff" opacity="0.5"/>
<ellipse cx="445.5" cy="161.6" rx="2.7" ry="4.0" fill="#0030ff" opacity="0.5"/>
<ellipse cx="425.3" cy="193.4" rx="1.7" ry="4.0" fill="#0030ff" opacity="0.5"/>
<ellipse cx="412.8" cy="177.7" rx="1.6" ry="2.6" fill="#0030ff" opacity="0.5"/>
<ellipse cx="421.2" cy="207.2" rx="2.0" ry="4.3" fill="#0030ff" opacity="0.5"/>
<ellipse cx="401.7" cy="183.8" rx="2.2" ry="5.4" fill="#0030ff" opacity="0.5"/>
<ellipse cx="440.8" cy="202.7" rx="1.5" ry="2.6" fill="#0030ff" opacity="0.5"/>
<ellipse cx="434.3" cy="172.3" rx="2.3" ry="4.2" fill="#0030ff" opacity="0.5"/>
<ellipse cx="396.6" cy="227.4" rx="2.7" ry="4.0" fill="#0030ff" opacity="0.5"/>
</g></g>
<g clip-path="url(#mc5)">
<ellipse cx="404" cy="165" rx="6" ry="20" fill="#00f0ff" transform="rotate(15 404 165)" filter="url(#b15)" opacity="0.7"/>
<ellipse cx="438" cy="205" rx="6" ry="12" fill="#00f0ff" transform="rotate(0 438 205)" filter="url(#b15)" opacity="0.6"/>
<ellipse cx="404" cy="208" rx="6" ry="10" fill="#00f0ff" transform="rotate(0 404 208)" filter="url(#b15)" opacity="0.6"/>
</g>
<ellipse cx="421" cy="212" rx="3" ry="20" fill="#00f0ff" transform="rotate(0 421 212)" filter="url(#b1)" opacity="1"/>
<g clip-path="url(#mc5)">
<ellipse cx="421.5" cy="138" rx="14" ry="13" fill="#00f0ff" transform="rotate(0 421.5 138)" filter="url(#b07)" opacity="1"/>
</g>
<ellipse cx="421.5" cy="139" rx="9.8" ry="10.5" fill="#10ff40" transform="rotate(0 421.5 139)" filter="url(#b1)" opacity="1"/>
<ellipse cx="420" cy="145" rx="4.5" ry="2.5" fill="#f8ff00" transform="rotate(0 420 145)" filter="url(#b05)" opacity="1"/>
<ellipse cx="419.3" cy="132.4" rx="2.8" ry="2.8" fill="#f8ff00" transform="rotate(0 419.3 132.4)" filter="url(#b05)" opacity="1"/>
<ellipse cx="419.3" cy="132.4" rx="1.4" ry="1.4" fill="#ff1000" transform="rotate(0 419.3 132.4)" filter="url(#b05)" opacity="1"/>
<ellipse cx="424" cy="174" rx="6.5" ry="12" fill="#10ff40" transform="rotate(30 424 174)" filter="url(#b1)" opacity="1"/>
<ellipse cx="421" cy="190" rx="3.5" ry="12" fill="#10ff40" transform="rotate(0 421 190)" filter="url(#b1)" opacity="1"/>
<ellipse cx="409" cy="188.5" rx="14" ry="11.5" fill="#10ff40" transform="rotate(-30 409 188.5)" filter="url(#b1)" opacity="1"/>
<ellipse cx="416.5" cy="181.5" rx="6" ry="5" fill="#10ff40" transform="rotate(-30 416.5 181.5)" filter="url(#b1)" opacity="1"/>
<ellipse cx="409" cy="188.5" rx="12.2" ry="9.8" fill="#f8ff00" transform="rotate(-30 409 188.5)" filter="url(#b07)" opacity="1"/>
<ellipse cx="416" cy="182" rx="4.5" ry="3.6" fill="#f8ff00" transform="rotate(-30 416 182)" filter="url(#b07)" opacity="1"/>
<ellipse cx="408.8" cy="188.8" rx="10.8" ry="8.4" fill="#ff1000" transform="rotate(-30 408.8 188.8)" filter="url(#b05)" opacity="1"/>
<ellipse cx="415.5" cy="182.5" rx="3.2" ry="2.6" fill="#ff1000" transform="rotate(-30 415.5 182.5)" filter="url(#b05)" opacity="1"/>
<ellipse cx="400" cy="231" rx="8.5" ry="3.2" fill="#00c4ff" transform="rotate(0 400 231)" filter="url(#b07)" opacity="1"/>
<ellipse cx="397" cy="231" rx="4" ry="2" fill="#10ff40" transform="rotate(0 397 231)" filter="url(#b05)" opacity="1"/>
<ellipse cx="441" cy="231.2" rx="10" ry="3.2" fill="#00c4ff" transform="rotate(0 441 231.2)" filter="url(#b07)" opacity="1"/>
<ellipse cx="440" cy="231" rx="4.5" ry="2" fill="#10ff40" transform="rotate(0 440 231)" filter="url(#b05)" opacity="1"/>
<ellipse cx="437.6" cy="231" rx="1.6" ry="1.5" fill="#ff9000" transform="rotate(0 437.6 231)" filter="url(#b05)" opacity="1"/>
<ellipse cx="421" cy="237" rx="2.6" ry="4.2" fill="#f8ff00" transform="rotate(0 421 237)" filter="url(#b05)" opacity="1"/>
<ellipse cx="421" cy="237.3" rx="1.7" ry="2.8" fill="#ff1000" transform="rotate(0 421 237.3)" filter="url(#b05)" opacity="1"/>
<path d="M482.5,129.6 C484.7,128.4 488.0,128.4 490.2,129.6 C492.4,130.8 494.6,134.3 495.9,137 C497.2,139.7 497.1,143.5 498,146 C498.9,148.5 499.9,150.0 501,152 C502.1,154.0 503.7,155.3 504.3,158 C504.9,160.7 504.3,164.3 504.5,168 C504.7,171.7 504.9,175.0 505.5,180 C506.1,185.0 507.4,192.7 507.8,198 C508.2,203.3 508.6,207.8 507.8,212 C507.0,216.2 505.0,221.0 502.9,223.3 C500.8,225.6 497.2,225.4 495,226 C492.8,226.6 490.4,224.2 489.5,227 C488.6,229.8 490.3,240.2 489.5,242.9 C488.7,245.6 485.4,245.6 484.6,242.9 C483.8,240.2 485.7,229.8 484.6,227 C483.5,224.2 481.0,226.6 478,226 C475.0,225.4 469.1,225.6 466.4,223.3 C463.6,221.0 462.4,216.2 461.5,212 C460.6,207.8 460.6,203.3 460.8,198 C461.0,192.7 462.3,185.3 462.9,180 C463.5,174.7 463.8,169.8 464.5,166 C465.2,162.2 465.8,159.5 467,157 C468.2,154.5 470.6,153.0 472,151 C473.4,149.0 474.6,147.4 475.5,145 C476.4,142.6 476.0,139.2 477.2,136.6 C478.4,134.0 480.3,130.8 482.5,129.6Z" fill="#0a34ff" stroke="#3a20ff" stroke-width="1.0" filter="url(#rough)"/>
<g clip-path="url(#mc6)"><g filter="url(#b1)">
<ellipse cx="490.8" cy="172.7" rx="2.3" ry="5.9" fill="#00c4ff" opacity="0.5"/>
<ellipse cx="474.9" cy="176.3" rx="2.3" ry="6.5" fill="#00c4ff" opacity="0.5"/>
<ellipse cx="472.8" cy="165.6" rx="2.9" ry="6.3" fill="#00c4ff" opacity="0.5"/>
<ellipse cx="507.3" cy="193.9" rx="2.9" ry="6.3" fill="#00c4ff" opacity="0.5"/>
<ellipse cx="501.3" cy="157.2" rx="1.9" ry="3.1" fill="#00c4ff" opacity="0.5"/>
<ellipse cx="493.9" cy="205.2" rx="1.9" ry="4.4" fill="#00c4ff" opacity="0.5"/>
<ellipse cx="501.8" cy="196.2" rx="1.8" ry="3.4" fill="#00c4ff" opacity="0.5"/>
<ellipse cx="467.9" cy="159.7" rx="2.3" ry="3.8" fill="#00c4ff" opacity="0.5"/>
<ellipse cx="506.0" cy="183.3" rx="2.5" ry="7.0" fill="#00c4ff" opacity="0.5"/>
<ellipse cx="498.3" cy="214.0" rx="2.3" ry="5.0" fill="#00c4ff" opacity="0.5"/>
<ellipse cx="480.6" cy="151.2" rx="2.3" ry="6.7" fill="#00c4ff" opacity="0.5"/>
<ellipse cx="509.1" cy="211.6" rx="2.8" ry="7.6" fill="#00c4ff" opacity="0.5"/>
<ellipse cx="460.9" cy="175.8" rx="2.2" ry="6.2" fill="#00c4ff" opacity="0.5"/>
<ellipse cx="465.3" cy="179.5" rx="2.5" ry="7.7" fill="#00c4ff" opacity="0.5"/>
<ellipse cx="501.3" cy="197.7" rx="1.9" ry="5.7" fill="#00c4ff" opacity="0.5"/>
<ellipse cx="505.1" cy="192.8" rx="2.2" ry="5.6" fill="#00c4ff" opacity="0.5"/>
<ellipse cx="467.1" cy="205.6" rx="3.4" ry="8.5" fill="#00c4ff" opacity="0.5"/>
<ellipse cx="495.8" cy="215.2" rx="2.0" ry="6.6" fill="#00c4ff" opacity="0.5"/>
<ellipse cx="491.4" cy="165.4" rx="1.7" ry="3.5" fill="#00c4ff" opacity="0.5"/>
<ellipse cx="488.8" cy="204.4" rx="2.2" ry="7.4" fill="#00c4ff" opacity="0.5"/>
<ellipse cx="478.1" cy="186.1" rx="1.8" ry="6.3" fill="#00c4ff" opacity="0.5"/>
<ellipse cx="466.8" cy="220.5" rx="2.6" ry="6.8" fill="#00c4ff" opacity="0.5"/>
<ellipse cx="488.0" cy="170.6" rx="3.2" ry="11.3" fill="#00c4ff" opacity="0.5"/>
<ellipse cx="500.9" cy="196.9" rx="1.8" ry="5.7" fill="#00c4ff" opacity="0.5"/>
<ellipse cx="474.4" cy="220.0" rx="2.0" ry="5.4" fill="#00c4ff" opacity="0.5"/>
<ellipse cx="501.5" cy="164.5" rx="2.6" ry="4.3" fill="#00c4ff" opacity="0.5"/>
<ellipse cx="461.6" cy="164.0" rx="3.4" ry="11.4" fill="#00c4ff" opacity="0.5"/>
<ellipse cx="492.9" cy="174.0" rx="2.8" ry="8.4" fill="#00c4ff" opacity="0.5"/>
<ellipse cx="479.1" cy="196.2" rx="3.0" ry="4.7" fill="#00c4ff" opacity="0.5"/>
<ellipse cx="470.0" cy="186.5" rx="1.9" ry="4.2" fill="#00c4ff" opacity="0.5"/>
<ellipse cx="488.5" cy="163.5" rx="2.5" ry="5.1" fill="#00c4ff" opacity="0.5"/>
<ellipse cx="488.4" cy="175.9" rx="2.8" ry="4.3" fill="#00c4ff" opacity="0.5"/>
<ellipse cx="493.5" cy="161.3" rx="3.3" ry="9.0" fill="#00c4ff" opacity="0.5"/>
<ellipse cx="483.5" cy="182.1" rx="2.7" ry="7.8" fill="#00c4ff" opacity="0.5"/>
<ellipse cx="497.9" cy="208.6" rx="2.5" ry="8.6" fill="#00c4ff" opacity="0.5"/>
<ellipse cx="501.9" cy="216.7" rx="2.3" ry="5.5" fill="#00c4ff" opacity="0.5"/>
<ellipse cx="488.3" cy="220.6" rx="2.5" ry="6.5" fill="#00c4ff" opacity="0.5"/>
<ellipse cx="481.6" cy="220.5" rx="2.2" ry="3.5" fill="#00c4ff" opacity="0.5"/>
<ellipse cx="496.3" cy="220.2" rx="2.9" ry="7.9" fill="#00c4ff" opacity="0.5"/>
<ellipse cx="497.6" cy="173.8" rx="2.7" ry="4.4" fill="#00c4ff" opacity="0.5"/>
<ellipse cx="466.2" cy="184.9" rx="2.5" ry="5.7" fill="#00c4ff" opacity="0.5"/>
<ellipse cx="462.6" cy="204.2" rx="2.5" ry="5.0" fill="#00c4ff" opacity="0.5"/>
<ellipse cx="475.3" cy="180.9" rx="2.0" ry="3.3" fill="#00c4ff" opacity="0.5"/>
<ellipse cx="505.6" cy="225.4" rx="2.8" ry="9.0" fill="#00c4ff" opacity="0.5"/>
<ellipse cx="481.1" cy="212.8" rx="2.0" ry="6.0" fill="#00c4ff" opacity="0.5"/>
<ellipse cx="488.3" cy="220.5" rx="1.8" ry="5.5" fill="#00c4ff" opacity="0.5"/>
<ellipse cx="466.2" cy="191.9" rx="3.3" ry="5.0" fill="#00c4ff" opacity="0.5"/>
<ellipse cx="472.2" cy="173.3" rx="2.2" ry="3.6" fill="#00c4ff" opacity="0.5"/>
<ellipse cx="504.8" cy="213.6" rx="2.3" ry="5.1" fill="#00c4ff" opacity="0.5"/>
<ellipse cx="489.3" cy="153.6" rx="1.7" ry="5.5" fill="#00c4ff" opacity="0.5"/>
</g></g>
<g clip-path="url(#mc6)"><g filter="url(#b07)">
<ellipse cx="475.4" cy="190.4" rx="1.2" ry="6.9" fill="#20d0ff" opacity="0.35"/>
<ellipse cx="483.6" cy="169.7" rx="0.8" ry="4.9" fill="#20d0ff" opacity="0.35"/>
<ellipse cx="504.8" cy="168.9" rx="1.1" ry="4.5" fill="#20d0ff" opacity="0.35"/>
<ellipse cx="483.6" cy="167.2" rx="1.1" ry="6.8" fill="#20d0ff" opacity="0.35"/>
<ellipse cx="470.1" cy="199.9" rx="0.8" ry="4.5" fill="#20d0ff" opacity="0.35"/>
<ellipse cx="462.5" cy="162.5" rx="1.1" ry="4.2" fill="#20d0ff" opacity="0.35"/>
<ellipse cx="505.0" cy="216.7" rx="1.1" ry="3.6" fill="#20d0ff" opacity="0.35"/>
<ellipse cx="494.8" cy="221.6" rx="0.9" ry="3.0" fill="#20d0ff" opacity="0.35"/>
<ellipse cx="471.2" cy="176.8" rx="1.1" ry="3.8" fill="#20d0ff" opacity="0.35"/>
<ellipse cx="469.1" cy="171.7" rx="1.0" ry="5.5" fill="#20d0ff" opacity="0.35"/>
<ellipse cx="478.6" cy="202.0" rx="1.1" ry="5.4" fill="#20d0ff" opacity="0.35"/>
<ellipse cx="471.4" cy="176.4" rx="1.2" ry="5.8" fill="#20d0ff" opacity="0.35"/>
<ellipse cx="473.8" cy="200.4" rx="0.7" ry="4.4" fill="#20d0ff" opacity="0.35"/>
<ellipse cx="482.0" cy="192.5" rx="1.0" ry="3.0" fill="#20d0ff" opacity="0.35"/>
<ellipse cx="490.0" cy="175.2" rx="0.8" ry="4.5" fill="#20d0ff" opacity="0.35"/>
<ellipse cx="464.4" cy="175.2" rx="1.1" ry="4.0" fill="#20d0ff" opacity="0.35"/>
<ellipse cx="474.0" cy="193.9" rx="0.8" ry="4.5" fill="#20d0ff" opacity="0.35"/>
<ellipse cx="509.4" cy="157.4" rx="0.9" ry="4.9" fill="#20d0ff" opacity="0.35"/>
<ellipse cx="479.2" cy="221.0" rx="0.9" ry="3.4" fill="#20d0ff" opacity="0.35"/>
<ellipse cx="487.8" cy="200.8" rx="0.9" ry="4.4" fill="#20d0ff" opacity="0.35"/>
<ellipse cx="499.1" cy="191.7" rx="1.0" ry="5.3" fill="#20d0ff" opacity="0.35"/>
<ellipse cx="494.2" cy="192.0" rx="1.2" ry="4.1" fill="#20d0ff" opacity="0.35"/>
<ellipse cx="499.0" cy="166.7" rx="1.0" ry="3.7" fill="#20d0ff" opacity="0.35"/>
<ellipse cx="482.0" cy="209.9" rx="1.1" ry="5.9" fill="#20d0ff" opacity="0.35"/>
<ellipse cx="471.8" cy="189.7" rx="0.8" ry="3.8" fill="#20d0ff" opacity="0.35"/>
<ellipse cx="484.9" cy="157.5" rx="1.0" ry="5.1" fill="#20d0ff" opacity="0.35"/>
<ellipse cx="488.6" cy="217.0" rx="0.8" ry="2.7" fill="#20d0ff" opacity="0.35"/>
<ellipse cx="460.9" cy="190.2" rx="0.9" ry="4.0" fill="#20d0ff" opacity="0.35"/>
<ellipse cx="473.1" cy="211.7" rx="0.7" ry="4.2" fill="#20d0ff" opacity="0.35"/>
<ellipse cx="488.4" cy="193.6" rx="1.1" ry="4.1" fill="#20d0ff" opacity="0.35"/>
<ellipse cx="467.3" cy="177.1" rx="0.7" ry="2.8" fill="#20d0ff" opacity="0.35"/>
<ellipse cx="491.1" cy="192.3" rx="0.8" ry="4.0" fill="#20d0ff" opacity="0.35"/>
<ellipse cx="464.4" cy="213.3" rx="0.8" ry="3.0" fill="#20d0ff" opacity="0.35"/>
<ellipse cx="468.0" cy="204.0" rx="1.1" ry="6.0" fill="#20d0ff" opacity="0.35"/>
<ellipse cx="463.1" cy="184.2" rx="0.9" ry="3.2" fill="#20d0ff" opacity="0.35"/>
<ellipse cx="508.5" cy="158.0" rx="0.9" ry="5.0" fill="#20d0ff" opacity="0.35"/>
<ellipse cx="509.3" cy="165.3" rx="0.9" ry="4.9" fill="#20d0ff" opacity="0.35"/>
<ellipse cx="462.0" cy="172.1" rx="1.1" ry="3.9" fill="#20d0ff" opacity="0.35"/>
<ellipse cx="479.6" cy="176.2" rx="0.9" ry="2.9" fill="#20d0ff" opacity="0.35"/>
<ellipse cx="461.7" cy="225.7" rx="1.1" ry="5.6" fill="#20d0ff" opacity="0.35"/>
</g></g>
<g clip-path="url(#mc6)"><g filter="url(#b1)">
<ellipse cx="471.5" cy="173.0" rx="2.3" ry="3.5" fill="#0030ff" opacity="0.5"/>
<ellipse cx="483.1" cy="221.2" rx="2.0" ry="3.4" fill="#0030ff" opacity="0.5"/>
<ellipse cx="509.1" cy="198.4" rx="1.6" ry="2.7" fill="#0030ff" opacity="0.5"/>
<ellipse cx="492.5" cy="159.2" rx="2.0" ry="4.2" fill="#0030ff" opacity="0.5"/>
<ellipse cx="503.2" cy="196.9" rx="2.8" ry="5.1" fill="#0030ff" opacity="0.5"/>
<ellipse cx="479.6" cy="214.9" rx="2.1" ry="4.6" fill="#0030ff" opacity="0.5"/>
<ellipse cx="470.8" cy="179.7" rx="1.8" ry="3.4" fill="#0030ff" opacity="0.5"/>
<ellipse cx="468.2" cy="169.5" rx="1.8" ry="3.3" fill="#0030ff" opacity="0.5"/>
<ellipse cx="475.4" cy="186.7" rx="3.0" ry="6.2" fill="#0030ff" opacity="0.5"/>
<ellipse cx="503.1" cy="169.5" rx="2.1" ry="2.7" fill="#0030ff" opacity="0.5"/>
<ellipse cx="494.6" cy="180.8" rx="1.9" ry="2.3" fill="#0030ff" opacity="0.5"/>
<ellipse cx="469.1" cy="173.6" rx="2.1" ry="5.0" fill="#0030ff" opacity="0.5"/>
<ellipse cx="495.8" cy="174.1" rx="2.0" ry="2.9" fill="#0030ff" opacity="0.5"/>
<ellipse cx="506.8" cy="180.5" rx="2.6" ry="5.7" fill="#0030ff" opacity="0.5"/>
<ellipse cx="505.4" cy="156.4" rx="2.0" ry="3.4" fill="#0030ff" opacity="0.5"/>
<ellipse cx="464.2" cy="217.6" rx="2.0" ry="4.4" fill="#0030ff" opacity="0.5"/>
<ellipse cx="486.0" cy="158.9" rx="2.1" ry="3.2" fill="#0030ff" opacity="0.5"/>
<ellipse cx="462.0" cy="165.7" rx="2.4" ry="3.0" fill="#0030ff" opacity="0.5"/>
</g></g>
<g clip-path="url(#mc6)">
<ellipse cx="486" cy="158" rx="14" ry="7" fill="#00f0ff" transform="rotate(0 486 158)" filter="url(#b15)" opacity="0.7"/>
</g>
<ellipse cx="487" cy="212" rx="3" ry="22" fill="#00f0ff" transform="rotate(0 487 212)" filter="url(#b1)" opacity="1"/>
<g clip-path="url(#mc6)">
<ellipse cx="486.8" cy="139" rx="14" ry="13" fill="#00f0ff" transform="rotate(0 486.8 139)" filter="url(#b07)" opacity="1"/>
</g>
<ellipse cx="486.8" cy="140" rx="9.2" ry="9.5" fill="#10ff40" transform="rotate(0 486.8 140)" filter="url(#b1)" opacity="1"/>
<ellipse cx="486" cy="146.4" rx="5.5" ry="2.4" fill="#f8ff00" transform="rotate(0 486 146.4)" filter="url(#b05)" opacity="1"/>
<ellipse cx="486.3" cy="134" rx="4.4" ry="2.8600000000000003" fill="#f8ff00" transform="rotate(0 486.3 134)" filter="url(#b1)" opacity="1"/>
<ellipse cx="486.3" cy="134" rx="2.9333333333333336" ry="1.906666666666667" fill="#ff1000" transform="rotate(0 486.3 134)" filter="url(#b05)" opacity="1"/>
<ellipse cx="486.3" cy="134" rx="1.4666666666666668" ry="0.9533333333333335" fill="#ff1000" transform="rotate(0 486.3 134)" filter="url(#b05)" opacity="1"/>
<ellipse cx="481" cy="188" rx="5" ry="13" fill="#10ff40" transform="rotate(0 481 188)" filter="url(#b1)" opacity="1"/>
<ellipse cx="467.1" cy="191.7" rx="7.0" ry="5.6000000000000005" fill="#10ff40" transform="rotate(-40 467.1 191.7)" filter="url(#b1)" opacity="1"/>
<ellipse cx="467.1" cy="191.7" rx="4.666666666666667" ry="3.733333333333334" fill="#f8ff00" transform="rotate(-40 467.1 191.7)" filter="url(#b1)" opacity="1"/>
<ellipse cx="467.1" cy="191.7" rx="2.3333333333333335" ry="1.866666666666667" fill="#ff1000" transform="rotate(-40 467.1 191.7)" filter="url(#b05)" opacity="1"/>
<ellipse cx="465" cy="228.2" rx="8.5" ry="3.2" fill="#0050ff" transform="rotate(0 465 228.2)" filter="url(#b07)" opacity="1"/>
<ellipse cx="460" cy="227.5" rx="2.6" ry="2" fill="#00f0ff" transform="rotate(0 460 227.5)" filter="url(#b05)" opacity="1"/>
<ellipse cx="469.5" cy="228.5" rx="3" ry="2.2" fill="#00f0ff" transform="rotate(0 469.5 228.5)" filter="url(#b05)" opacity="1"/>
<ellipse cx="507" cy="227" rx="8" ry="3.2" fill="#0050ff" transform="rotate(0 507 227)" filter="url(#b07)" opacity="1"/>
<ellipse cx="503.5" cy="227.5" rx="3" ry="2" fill="#00f0ff" transform="rotate(0 503.5 227.5)" filter="url(#b05)" opacity="1"/>
<ellipse cx="516.8" cy="228.2" rx="4.8" ry="4.8" fill="#10ff40" transform="rotate(0 516.8 228.2)" filter="url(#b1)" opacity="1"/>
<ellipse cx="516.8" cy="228.2" rx="3.5999999999999996" ry="3.5999999999999996" fill="#f8ff00" transform="rotate(0 516.8 228.2)" filter="url(#b05)" opacity="1"/>
<ellipse cx="516.8" cy="228.2" rx="2.4" ry="2.4" fill="#ff1000" transform="rotate(0 516.8 228.2)" filter="url(#b05)" opacity="1"/>
<ellipse cx="516.8" cy="228.2" rx="1.2" ry="1.2" fill="#ff1000" transform="rotate(0 516.8 228.2)" filter="url(#b05)" opacity="1"/>
<ellipse cx="487" cy="237" rx="2.8" ry="4.4" fill="#10ff40" transform="rotate(0 487 237)" filter="url(#b05)" opacity="1"/>
<ellipse cx="487" cy="237.3" rx="1.8" ry="3" fill="#f8ff00" transform="rotate(0 487 237.3)" filter="url(#b05)" opacity="1"/>
</g>
</svg>
</body></html>
